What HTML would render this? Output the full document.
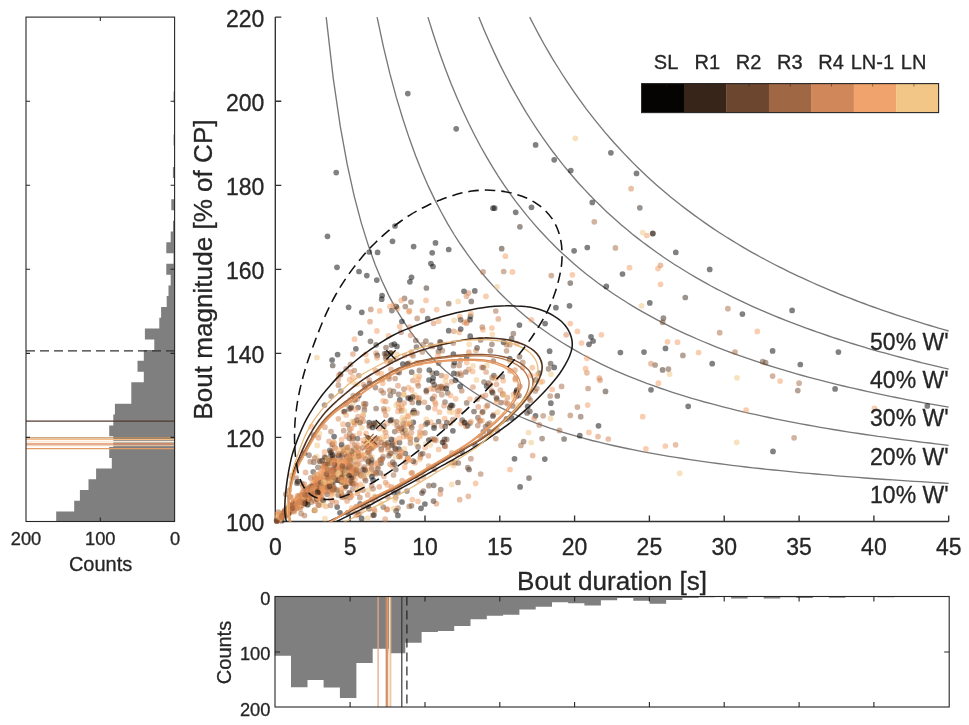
<!DOCTYPE html>
<html><head><meta charset="utf-8"><title>Bout magnitude vs duration</title>
<style>html,body{margin:0;padding:0;background:#fff;}svg{display:block;will-change:transform;}text{font-family:"Liberation Sans",sans-serif;fill:#262626;stroke:#262626;stroke-width:0.3px;}.p0{fill:#060403}.p1{fill:#38251a}.p2{fill:#6c462e}.p3{fill:#a56740}.p4{fill:#d68452}.p5{fill:#f49e62}.p6{fill:#f2c480}</style></head><body>
<svg width="969" height="725" viewBox="0 0 969 725">
<rect width="969" height="725" fill="#fff"/>
<defs><clipPath id="cm"><rect x="275.3" y="17.1" width="673.9" height="504.4"/></clipPath><clipPath id="cp"><rect x="269.3" y="13.1" width="685.4" height="512.4"/></clipPath></defs>
<path d="M56.2 511.5H174.6V521.7H56.2ZM74.2 500.8H174.6V511.7H74.2ZM79.9 490H174.6V501H79.9ZM88.5 479.2H174.6V490.2H88.5ZM96.1 468.4H174.6V479.4H96.1ZM111.8 457.7H174.6V468.6H111.8ZM109.2 446.9H174.6V457.9H109.2ZM113.3 436.1H174.6V447.1H113.3ZM109.2 425.4H174.6V436.3H109.2ZM113.3 414.6H174.6V425.6H113.3ZM114.9 403.8H174.6V414.8H114.9ZM131.3 393.1H174.6V404H131.3ZM131.3 382.3H174.6V393.3H131.3ZM143.8 371.5H174.6V382.5H143.8ZM137.5 360.8H174.6V371.7H137.5ZM143.8 350H174.6V360.9H143.8ZM154.3 339.2H174.6V350.2H154.3ZM144.9 328.4H174.6V339.4H144.9ZM159.3 317.7H174.6V328.6H159.3ZM161.1 306.9H174.6V317.9H161.1ZM166.7 296.1H174.6V307.1H166.7ZM168.5 285.4H174.6V296.3H168.5ZM170.7 274.6H174.6V285.6H170.7ZM166.3 263.8H174.6V274.8H166.3ZM173.5 253H174.6V264H173.5ZM166.3 242.3H174.6V253.2H166.3ZM170.7 231.5H174.6V242.5H170.7ZM173 220.7H174.6V231.7H173ZM171.3 199.2H174.6V210.2H171.3ZM172.9 166.9H174.6V177.9H172.9ZM173.6 134.6H174.6V145.5H173.6ZM173.6 91.5H174.6V102.5H173.6Z" fill="#7f7f7f"/>
<line x1="26" x2="174.6" y1="421.1" y2="421.1" stroke="#4f3a2c" stroke-width="1.2"/>
<line x1="26" x2="174.6" y1="437.9" y2="437.9" stroke="#c48e56" stroke-width="1.1"/>
<line x1="26" x2="174.6" y1="439.5" y2="439.5" stroke="#f3bd8c" stroke-width="1.2"/>
<line x1="26" x2="174.6" y1="441.6" y2="441.6" stroke="#fbead6" stroke-width="1.6"/>
<line x1="26" x2="174.6" y1="444" y2="444" stroke="#db926c" stroke-width="1.7"/>
<line x1="26" x2="174.6" y1="445.7" y2="445.7" stroke="#f5ccac" stroke-width="1.0"/>
<line x1="26" x2="174.6" y1="448.7" y2="448.7" stroke="#e39c68" stroke-width="1.2"/>
<line x1="26" x2="174.6" y1="350.9" y2="350.9" stroke="#333" stroke-width="1.2" stroke-dasharray="9 5"/>
<rect x="26" y="17.1" width="148.6" height="504.4" fill="none" stroke="#262626" stroke-width="1.1"/>
<path d="M26 437.4h4M174.6 437.4h-4M26 353.4h4M174.6 353.4h-4M26 269.3h4M174.6 269.3h-4M26 185.3h4M174.6 185.3h-4M26 101.2h4M174.6 101.2h-4M100.3 17.1v4M100.3 521.5v-4" stroke="#262626" stroke-width="1.1" fill="none"/>
<text x="26" y="545" font-size="18.3" text-anchor="middle">200</text>
<text x="100.3" y="545" font-size="18.3" text-anchor="middle">100</text>
<text x="175" y="545" font-size="18.3" text-anchor="middle">0</text>
<text x="100.6" y="570.7" font-size="20" text-anchor="middle">Counts</text>
<path d="M274.7 596.5H291.2V655.7H274.7ZM291 596.5H307.5V687.2H291ZM307.3 596.5H323.8V679.9H307.3ZM323.6 596.5H340.1V687.5H323.6ZM339.9 596.5H356.4V698.1H339.9ZM356.2 596.5H372.7V663.1H356.2ZM372.5 596.5H389V648.8H372.5ZM388.8 596.5H405.3V653.3H388.8ZM405.1 596.5H421.6V642.7H405.1ZM421.4 596.5H437.9V631.9H421.4ZM437.7 596.5H454.2V630.9H437.7ZM454 596.5H470.5V626H454ZM470.3 596.5H486.8V619.2H470.3ZM486.6 596.5H503.1V615.7H486.6ZM502.9 596.5H519.4V614.7H502.9ZM519.2 596.5H535.7V609.5H519.2ZM535.5 596.5H552V606.8H535.5ZM551.8 596.5H568.3V602.3H551.8ZM568.1 596.5H584.6V603.3H568.1ZM584.4 596.5H600.9V605.4H584.4ZM600.7 596.5H617.2V600.2H600.7ZM617 596.5H633.5V598.1H617ZM633.3 596.5H649.8V600.8H633.3ZM649.6 596.5H666.1V603.7H649.6ZM665.9 596.5H682.4V600H665.9ZM682.2 596.5H698.7V597.9H682.2ZM698.5 596.5H715V597.3H698.5ZM731.1 596.5H747.6V598.5H731.1ZM747.4 596.5H763.9V597.1H747.4ZM763.7 596.5H780.2V598.5H763.7ZM780 596.5H796.5V597.3H780ZM796.3 596.5H812.8V598H796.3ZM828.9 596.5H845.4V597.7H828.9ZM845.2 596.5H861.7V597.1H845.2ZM877.8 596.5H894.3V597.3H877.8ZM910.4 596.5H926.9V597.1H910.4Z" fill="#7f7f7f"/>
<line x1="378.1" x2="378.1" y1="596.5" y2="707" stroke="#e8a880" stroke-width="1.3"/>
<line x1="386.3" x2="386.3" y1="596.5" y2="707" stroke="#c98c62" stroke-width="1.3"/>
<line x1="387.6" x2="387.6" y1="596.5" y2="707" stroke="#d99a70" stroke-width="1.3"/>
<line x1="389.7" x2="389.7" y1="596.5" y2="707" stroke="#f9e4c6" stroke-width="1.6"/>
<line x1="390.8" x2="390.8" y1="596.5" y2="707" stroke="#eeb487" stroke-width="1.0"/>
<line x1="401.8" x2="401.8" y1="596.5" y2="707" stroke="#3c3532" stroke-width="1.2"/>
<line x1="406.9" x2="406.9" y1="596.5" y2="707" stroke="#222" stroke-width="1.2" stroke-dasharray="9 5"/>
<rect x="275" y="596.5" width="674.2" height="110.5" fill="none" stroke="#262626" stroke-width="1.1"/>
<path d="M350.1 596.5v5M350.1 707v-5M425 596.5v5M425 707v-5M499.8 596.5v5M499.8 707v-5M574.6 596.5v5M574.6 707v-5M649.4 596.5v5M649.4 707v-5M724.2 596.5v5M724.2 707v-5M799.1 596.5v5M799.1 707v-5M873.9 596.5v5M873.9 707v-5M275 652h5M949.2 652h-5" stroke="#262626" stroke-width="1.1" fill="none"/>
<text x="270.4" y="604.6" font-size="18.3" text-anchor="end">0</text>
<text x="270.4" y="660.3" font-size="18.3" text-anchor="end">100</text>
<text x="270.4" y="715.6" font-size="18.3" text-anchor="end">200</text>
<text transform="translate(231 652.5) rotate(-90)" font-size="20" text-anchor="middle">Counts</text>
<path d="M326.2 17.1L333.2 78.1L340.2 125.9L347.2 164.4L354.2 196.1L361.2 222.6L368.2 245.1L375.1 264.5L382.1 281.3L389.1 296.1L396.1 309.1L403.1 320.7L410.1 331.2L417.1 340.5L424.1 349L431.1 356.8L438.1 363.9L445.1 370.4L452.1 376.3L459.1 381.9L466.1 387L473.1 391.7L480.1 396.2L487.1 400.3L494.1 404.2L501.1 407.8L508 411.2L515 414.5L522 417.5L529 420.4L536 423.1L543 425.6L550 428.1L557 430.4L564 432.6L571 434.7L578 436.7L585 438.6L592 440.5L599 442.2L606 443.9L613 445.5L620 447L627 448.5L634 449.9L641 451.3L647.9 452.6L654.9 453.9L661.9 455.1L668.9 456.3L675.9 457.4L682.9 458.5L689.9 459.6L696.9 460.6L703.9 461.6L710.9 462.6L717.9 463.5L724.9 464.4L731.9 465.3L738.9 466.1L745.9 467L752.9 467.8L759.9 468.5L766.9 469.3L773.9 470L780.8 470.7L787.8 471.4L794.8 472.1L801.8 472.8L808.8 473.4L815.8 474L822.8 474.6L829.8 475.2L836.8 475.8L843.8 476.4L850.8 476.9L857.8 477.4L864.8 478L871.8 478.5L878.8 479L885.8 479.5L892.8 479.9L899.8 480.4L906.8 480.9L913.8 481.3L920.7 481.7L927.7 482.2L934.7 482.6L941.7 483L948.7 483.4" fill="none" stroke="#787878" stroke-width="1.35"/>
<path d="M377.1 17.1L383.5 47.1L389.9 73.7L396.3 97.4L402.8 118.8L409.2 138.1L415.6 155.7L422 171.7L428.4 186.4L434.9 199.9L441.3 212.3L447.7 223.8L454.1 234.5L460.6 244.5L467 253.7L473.4 262.4L479.8 270.6L486.3 278.2L492.7 285.4L499.1 292.2L505.5 298.6L511.9 304.6L518.4 310.3L524.8 315.8L531.2 320.9L537.6 325.9L544.1 330.5L550.5 335L556.9 339.2L563.3 343.3L569.8 347.2L576.2 350.9L582.6 354.5L589 357.9L595.5 361.2L601.9 364.3L608.3 367.4L614.7 370.3L621.1 373.1L627.6 375.8L634 378.4L640.4 380.9L646.8 383.4L653.3 385.7L659.7 388L666.1 390.2L672.5 392.3L679 394.3L685.4 396.3L691.8 398.3L698.2 400.1L704.6 402L711.1 403.7L717.5 405.4L723.9 407.1L730.3 408.7L736.8 410.3L743.2 411.8L749.6 413.3L756 414.7L762.5 416.1L768.9 417.5L775.3 418.9L781.7 420.2L788.1 421.4L794.6 422.7L801 423.9L807.4 425L813.8 426.2L820.3 427.3L826.7 428.4L833.1 429.5L839.5 430.5L846 431.6L852.4 432.6L858.8 433.5L865.2 434.5L871.6 435.4L878.1 436.4L884.5 437.2L890.9 438.1L897.3 439L903.8 439.8L910.2 440.7L916.6 441.5L923 442.3L929.5 443L935.9 443.8L942.3 444.6L948.7 445.3" fill="none" stroke="#787878" stroke-width="1.35"/>
<path d="M427.9 17.1L433.8 35.8L439.6 53.1L445.5 69.2L451.3 84.2L457.2 98.3L463.1 111.5L468.9 123.8L474.8 135.5L480.6 146.5L486.5 156.9L492.3 166.7L498.2 176.1L504 184.9L509.9 193.3L515.7 201.3L521.6 208.9L527.4 216.1L533.3 223.1L539.1 229.7L545 236L550.8 242.1L556.7 247.9L562.5 253.5L568.4 258.8L574.2 264L580.1 268.9L585.9 273.7L591.8 278.2L597.6 282.7L603.5 286.9L609.3 291L615.2 295L621 298.8L626.9 302.5L632.7 306.1L638.6 309.6L644.4 312.9L650.3 316.2L656.2 319.4L662 322.4L667.9 325.4L673.7 328.3L679.6 331.1L685.4 333.8L691.3 336.4L697.1 339L703 341.5L708.8 343.9L714.7 346.3L720.5 348.6L726.4 350.8L732.2 353L738.1 355.1L743.9 357.2L749.8 359.2L755.6 361.2L761.5 363.1L767.3 365L773.2 366.9L779 368.7L784.9 370.4L790.7 372.1L796.6 373.8L802.4 375.5L808.3 377.1L814.1 378.6L820 380.2L825.8 381.7L831.7 383.1L837.5 384.6L843.4 386L849.2 387.4L855.1 388.7L861 390L866.8 391.3L872.7 392.6L878.5 393.9L884.4 395.1L890.2 396.3L896.1 397.5L901.9 398.6L907.8 399.8L913.6 400.9L919.5 402L925.3 403.1L931.2 404.1L937 405.2L942.9 406.2L948.7 407.2" fill="none" stroke="#787878" stroke-width="1.35"/>
<path d="M478.8 17.1L484.1 29.9L489.4 42L494.7 53.6L499.9 64.6L505.2 75L510.5 85.1L515.8 94.7L521.1 103.8L526.3 112.6L531.6 121L536.9 129.1L542.2 136.9L547.5 144.3L552.7 151.5L558 158.4L563.3 165.1L568.6 171.5L573.9 177.7L579.1 183.7L584.4 189.4L589.7 195L595 200.4L600.3 205.6L605.5 210.7L610.8 215.6L616.1 220.3L621.4 224.9L626.7 229.3L631.9 233.7L637.2 237.9L642.5 242L647.8 245.9L653.1 249.8L658.3 253.5L663.6 257.2L668.9 260.7L674.2 264.2L679.5 267.5L684.7 270.8L690 274L695.3 277.1L700.6 280.1L705.9 283.1L711.1 286L716.4 288.8L721.7 291.5L727 294.2L732.3 296.9L737.5 299.4L742.8 301.9L748.1 304.4L753.4 306.8L758.7 309.1L763.9 311.4L769.2 313.7L774.5 315.9L779.8 318L785.1 320.1L790.3 322.2L795.6 324.2L800.9 326.2L806.2 328.1L811.5 330L816.7 331.9L822 333.7L827.3 335.5L832.6 337.3L837.8 339L843.1 340.7L848.4 342.4L853.7 344L859 345.6L864.2 347.2L869.5 348.8L874.8 350.3L880.1 351.8L885.4 353.2L890.6 354.7L895.9 356.1L901.2 357.5L906.5 358.9L911.8 360.2L917 361.5L922.3 362.9L927.6 364.1L932.9 365.4L938.2 366.6L943.4 367.9L948.7 369.1" fill="none" stroke="#787878" stroke-width="1.35"/>
<path d="M529.7 17.1L534.4 26.3L539.1 35.1L543.8 43.7L548.5 51.9L553.2 59.9L558 67.5L562.7 75L567.4 82.2L572.1 89.2L576.8 95.9L581.5 102.4L586.2 108.8L590.9 114.9L595.6 120.9L600.3 126.7L605 132.4L609.7 137.8L614.5 143.2L619.2 148.3L623.9 153.4L628.6 158.3L633.3 163.1L638 167.7L642.7 172.3L647.4 176.7L652.1 181L656.8 185.2L661.5 189.3L666.2 193.3L670.9 197.2L675.7 201L680.4 204.7L685.1 208.4L689.8 211.9L694.5 215.4L699.2 218.8L703.9 222.1L708.6 225.4L713.3 228.6L718 231.7L722.7 234.7L727.4 237.7L732.2 240.6L736.9 243.5L741.6 246.3L746.3 249.1L751 251.8L755.7 254.4L760.4 257L765.1 259.5L769.8 262L774.5 264.5L779.2 266.9L783.9 269.2L788.6 271.6L793.4 273.8L798.1 276.1L802.8 278.2L807.5 280.4L812.2 282.5L816.9 284.6L821.6 286.6L826.3 288.6L831 290.6L835.7 292.5L840.4 294.5L845.1 296.3L849.9 298.2L854.6 300L859.3 301.8L864 303.5L868.7 305.3L873.4 307L878.1 308.6L882.8 310.3L887.5 311.9L892.2 313.5L896.9 315.1L901.6 316.6L906.4 318.2L911.1 319.7L915.8 321.2L920.5 322.6L925.2 324.1L929.9 325.5L934.6 326.9L939.3 328.3L944 329.6L948.7 331" fill="none" stroke="#787878" stroke-width="1.35"/>
<path d="M275.3 17.1V521.5H948.7M275.3 521.5h6M275.3 437.4h6M275.3 353.4h6M275.3 269.3h6M275.3 185.3h6M275.3 101.2h6M275.3 17.1h6M275.3 521.5v-6M350.1 521.5v-6M425 521.5v-6M499.8 521.5v-6M574.6 521.5v-6M649.4 521.5v-6M724.2 521.5v-6M799.1 521.5v-6M873.9 521.5v-6M948.7 521.5v-6" stroke="#303030" stroke-width="1.35" fill="none"/>
<g clip-path="url(#cp)" fill-opacity="0.5">
<circle class="p3" cx="301.5" cy="501.9" r="2.85"/><circle class="p5" cx="295.7" cy="499.4" r="2.85"/><circle class="p0" cx="399.1" cy="456.3" r="2.85"/><circle class="p5" cx="343.9" cy="497.6" r="2.85"/><circle class="p3" cx="325.9" cy="466.9" r="2.85"/><circle class="p4" cx="326.3" cy="487.4" r="2.85"/><circle class="p4" cx="478.3" cy="406.9" r="2.85"/><circle class="p6" cx="349.2" cy="468.6" r="2.85"/><circle class="p5" cx="400.4" cy="456.9" r="2.85"/><circle class="p5" cx="436.7" cy="309.6" r="2.85"/><circle class="p0" cx="535.6" cy="144.9" r="2.85"/><circle class="p3" cx="406.2" cy="433.9" r="2.85"/><circle class="p3" cx="345.2" cy="485.5" r="2.85"/><circle class="p0" cx="838.4" cy="352.1" r="2.85"/><circle class="p2" cx="548.6" cy="368.8" r="2.85"/><circle class="p4" cx="330.1" cy="463.5" r="2.85"/><circle class="p6" cx="449.6" cy="411.7" r="2.85"/><circle class="p5" cx="410.4" cy="437" r="2.85"/><circle class="p3" cx="395.7" cy="497.6" r="2.85"/><circle class="p3" cx="350.5" cy="364.4" r="2.85"/><circle class="p5" cx="642.7" cy="416.7" r="2.85"/><circle class="p5" cx="277.5" cy="518.6" r="2.85"/><circle class="p0" cx="348.2" cy="468.4" r="2.85"/><circle class="p5" cx="296.6" cy="500.4" r="2.85"/><circle class="p2" cx="300.1" cy="497.1" r="2.85"/><circle class="p0" cx="453.4" cy="354.2" r="2.85"/><circle class="p4" cx="378.1" cy="444.3" r="2.85"/><circle class="p1" cx="652.7" cy="233.4" r="2.85"/><circle class="p3" cx="354.8" cy="445" r="2.85"/><circle class="p6" cx="430.4" cy="444.8" r="2.85"/><circle class="p3" cx="509.8" cy="344.7" r="2.85"/><circle class="p3" cx="380.2" cy="460.1" r="2.85"/><circle class="p4" cx="349.3" cy="454.7" r="2.85"/><circle class="p6" cx="307.8" cy="492" r="2.85"/><circle class="p5" cx="370.5" cy="463.1" r="2.85"/><circle class="p3" cx="325.5" cy="486.6" r="2.85"/><circle class="p4" cx="341.4" cy="494.4" r="2.85"/><circle class="p4" cx="566.2" cy="334.8" r="2.85"/><circle class="p1" cx="390.8" cy="453.3" r="2.85"/><circle class="p5" cx="407.5" cy="416.3" r="2.85"/><circle class="p3" cx="502.7" cy="394.5" r="2.85"/><circle class="p6" cx="368.1" cy="451.1" r="2.85"/><circle class="p5" cx="311.1" cy="493.2" r="2.85"/><circle class="p4" cx="409" cy="363.2" r="2.85"/><circle class="p0" cx="413.3" cy="422.3" r="2.85"/><circle class="p4" cx="298.3" cy="507.6" r="2.85"/><circle class="p2" cx="425.8" cy="424.3" r="2.85"/><circle class="p2" cx="370.5" cy="448.1" r="2.85"/><circle class="p0" cx="549.6" cy="351.2" r="2.85"/><circle class="p3" cx="358" cy="471" r="2.85"/><circle class="p5" cx="298.3" cy="500" r="2.85"/><circle class="p0" cx="361.6" cy="518.4" r="2.85"/><circle class="p2" cx="519.5" cy="356.7" r="2.85"/><circle class="p6" cx="453.5" cy="465.6" r="2.85"/><circle class="p4" cx="468.8" cy="352.2" r="2.85"/><circle class="p2" cx="314.1" cy="487.4" r="2.85"/><circle class="p0" cx="399" cy="449.1" r="2.85"/><circle class="p4" cx="468.6" cy="293" r="2.85"/><circle class="p3" cx="441.9" cy="387.9" r="2.85"/><circle class="p4" cx="293.7" cy="505.2" r="2.85"/><circle class="p3" cx="441.7" cy="386.3" r="2.85"/><circle class="p2" cx="765.6" cy="362.5" r="2.85"/><circle class="p2" cx="352.8" cy="438.5" r="2.85"/><circle class="p1" cx="341.3" cy="454.7" r="2.85"/><circle class="p3" cx="352.7" cy="489.1" r="2.85"/><circle class="p5" cx="352.5" cy="470.8" r="2.85"/><circle class="p3" cx="426.3" cy="391.7" r="2.85"/><circle class="p2" cx="322.8" cy="490.8" r="2.85"/><circle class="p5" cx="366" cy="433.4" r="2.85"/><circle class="p1" cx="323.3" cy="500.3" r="2.85"/><circle class="p5" cx="319.7" cy="479.1" r="2.85"/><circle class="p0" cx="277" cy="521.1" r="2.85"/><circle class="p3" cx="290.5" cy="508.3" r="2.85"/><circle class="p3" cx="528.9" cy="398.1" r="2.85"/><circle class="p3" cx="615.4" cy="247.9" r="2.85"/><circle class="p4" cx="356.7" cy="485.6" r="2.85"/><circle class="p5" cx="411.4" cy="354.4" r="2.85"/><circle class="p3" cx="297.3" cy="503.2" r="2.85"/><circle class="p3" cx="409.2" cy="506.4" r="2.85"/><circle class="p0" cx="401.9" cy="321.5" r="2.85"/><circle class="p5" cx="329.1" cy="480.7" r="2.85"/><circle class="p5" cx="658" cy="268.6" r="2.85"/><circle class="p5" cx="332" cy="478.7" r="2.85"/><circle class="p6" cx="473" cy="365.8" r="2.85"/><circle class="p3" cx="289.1" cy="512.7" r="2.85"/><circle class="p5" cx="314.3" cy="476.6" r="2.85"/><circle class="p4" cx="333.2" cy="488.7" r="2.85"/><circle class="p0" cx="460.2" cy="386.4" r="2.85"/><circle class="p2" cx="484" cy="382" r="2.85"/><circle class="p1" cx="308.2" cy="491.3" r="2.85"/><circle class="p4" cx="332.4" cy="500.8" r="2.85"/><circle class="p6" cx="422" cy="433.4" r="2.85"/><circle class="p3" cx="286.2" cy="515.6" r="2.85"/><circle class="p2" cx="305.2" cy="494.3" r="2.85"/><circle class="p2" cx="453.6" cy="365.7" r="2.85"/><circle class="p6" cx="486.9" cy="365.7" r="2.85"/><circle class="p3" cx="350.6" cy="475.8" r="2.85"/><circle class="p5" cx="296.9" cy="500.3" r="2.85"/><circle class="p3" cx="507.4" cy="403.6" r="2.85"/><circle class="p4" cx="356.2" cy="473.9" r="2.85"/><circle class="p5" cx="382.8" cy="383.3" r="2.85"/><circle class="p5" cx="298.1" cy="497.7" r="2.85"/><circle class="p4" cx="293.5" cy="503.9" r="2.85"/><circle class="p4" cx="352.2" cy="441.6" r="2.85"/><circle class="p5" cx="281.7" cy="515.5" r="2.85"/><circle class="p3" cx="295.5" cy="507.4" r="2.85"/><circle class="p4" cx="660.5" cy="265.3" r="2.85"/><circle class="p3" cx="522.8" cy="362.4" r="2.85"/><circle class="p4" cx="317.5" cy="495.4" r="2.85"/><circle class="p6" cx="550.5" cy="418.6" r="2.85"/><circle class="p4" cx="286.8" cy="511.7" r="2.85"/><circle class="p3" cx="283.1" cy="515.6" r="2.85"/><circle class="p6" cx="407.9" cy="423.3" r="2.85"/><circle class="p2" cx="458" cy="482.5" r="2.85"/><circle class="p3" cx="477.8" cy="425.6" r="2.85"/><circle class="p4" cx="280" cy="519.3" r="2.85"/><circle class="p4" cx="385.2" cy="519.2" r="2.85"/><circle class="p4" cx="339.1" cy="461.6" r="2.85"/><circle class="p1" cx="557.3" cy="395.9" r="2.85"/><circle class="p4" cx="409.4" cy="310.8" r="2.85"/><circle class="p2" cx="375.4" cy="387.6" r="2.85"/><circle class="p2" cx="430.9" cy="345.2" r="2.85"/><circle class="p5" cx="403.6" cy="436.7" r="2.85"/><circle class="p6" cx="641.5" cy="305.8" r="2.85"/><circle class="p4" cx="287.2" cy="513.6" r="2.85"/><circle class="p3" cx="293.1" cy="506" r="2.85"/><circle class="p2" cx="372.8" cy="442.6" r="2.85"/><circle class="p5" cx="285.4" cy="514.9" r="2.85"/><circle class="p2" cx="308.2" cy="494" r="2.85"/><circle class="p2" cx="353" cy="477" r="2.85"/><circle class="p6" cx="325.2" cy="491.3" r="2.85"/><circle class="p0" cx="414" cy="412.7" r="2.85"/><circle class="p4" cx="331.2" cy="463" r="2.85"/><circle class="p5" cx="373.2" cy="447.2" r="2.85"/><circle class="p4" cx="400.2" cy="455.7" r="2.85"/><circle class="p4" cx="349.5" cy="483.3" r="2.85"/><circle class="p5" cx="307.1" cy="495.8" r="2.85"/><circle class="p5" cx="330.8" cy="498.9" r="2.85"/><circle class="p5" cx="306.9" cy="490.2" r="2.85"/><circle class="p0" cx="448.7" cy="330.7" r="2.85"/><circle class="p5" cx="455.7" cy="398.8" r="2.85"/><circle class="p4" cx="309.3" cy="489.1" r="2.85"/><circle class="p5" cx="283.8" cy="514.7" r="2.85"/><circle class="p3" cx="389.9" cy="390.3" r="2.85"/><circle class="p5" cx="303.3" cy="503" r="2.85"/><circle class="p4" cx="361.2" cy="476.1" r="2.85"/><circle class="p4" cx="491.6" cy="390.5" r="2.85"/><circle class="p5" cx="331.7" cy="493.6" r="2.85"/><circle class="p4" cx="357.4" cy="399" r="2.85"/><circle class="p1" cx="297" cy="483.2" r="2.85"/><circle class="p4" cx="285.9" cy="512.5" r="2.85"/><circle class="p5" cx="276.9" cy="520.8" r="2.85"/><circle class="p5" cx="298.8" cy="501.8" r="2.85"/><circle class="p2" cx="411.5" cy="505.8" r="2.85"/><circle class="p5" cx="278.4" cy="518.1" r="2.85"/><circle class="p3" cx="305.3" cy="498.3" r="2.85"/><circle class="p5" cx="333.6" cy="486.1" r="2.85"/><circle class="p1" cx="318.7" cy="492" r="2.85"/><circle class="p5" cx="297.7" cy="506.3" r="2.85"/><circle class="p0" cx="470.2" cy="336.2" r="2.85"/><circle class="p0" cx="675.8" cy="252.4" r="2.85"/><circle class="p4" cx="493.6" cy="414.5" r="2.85"/><circle class="p3" cx="331" cy="472.1" r="2.85"/><circle class="p0" cx="520.1" cy="486.9" r="2.85"/><circle class="p2" cx="345.6" cy="496.3" r="2.85"/><circle class="p4" cx="385.7" cy="401.5" r="2.85"/><circle class="p5" cx="417.5" cy="383.2" r="2.85"/><circle class="p5" cx="780.1" cy="381.1" r="2.85"/><circle class="p3" cx="332.2" cy="444.6" r="2.85"/><circle class="p0" cx="428.8" cy="440.1" r="2.85"/><circle class="p6" cx="517.8" cy="405.2" r="2.85"/><circle class="p6" cx="394.1" cy="423" r="2.85"/><circle class="p3" cx="300.1" cy="506.9" r="2.85"/><circle class="p2" cx="333.6" cy="477.4" r="2.85"/><circle class="p4" cx="441.9" cy="426.2" r="2.85"/><circle class="p5" cx="290.4" cy="506.6" r="2.85"/><circle class="p1" cx="605.5" cy="391.4" r="2.85"/><circle class="p2" cx="513.3" cy="333.7" r="2.85"/><circle class="p4" cx="317.5" cy="487" r="2.85"/><circle class="p0" cx="350.5" cy="457.8" r="2.85"/><circle class="p4" cx="415" cy="462.7" r="2.85"/><circle class="p0" cx="527.7" cy="406.4" r="2.85"/><circle class="p5" cx="439.5" cy="412.2" r="2.85"/><circle class="p4" cx="348.5" cy="457.6" r="2.85"/><circle class="p0" cx="433" cy="266.5" r="2.85"/><circle class="p4" cx="353.2" cy="435.8" r="2.85"/><circle class="p5" cx="395.5" cy="443.1" r="2.85"/><circle class="p3" cx="281.8" cy="517" r="2.85"/><circle class="p4" cx="315" cy="479.5" r="2.85"/><circle class="p3" cx="295.4" cy="505.3" r="2.85"/><circle class="p1" cx="413.8" cy="410.6" r="2.85"/><circle class="p6" cx="451.8" cy="484.4" r="2.85"/><circle class="p5" cx="366.5" cy="472" r="2.85"/><circle class="p3" cx="307" cy="496.7" r="2.85"/><circle class="p3" cx="418.3" cy="385.8" r="2.85"/><circle class="p6" cx="383.3" cy="439.4" r="2.85"/><circle class="p1" cx="685.3" cy="297.5" r="2.85"/><circle class="p1" cx="432.5" cy="398.8" r="2.85"/><circle class="p5" cx="397.5" cy="308.4" r="2.85"/><circle class="p3" cx="306.6" cy="497.3" r="2.85"/><circle class="p3" cx="353.8" cy="464.5" r="2.85"/><circle class="p3" cx="293.6" cy="501.9" r="2.85"/><circle class="p4" cx="338.1" cy="379.6" r="2.85"/><circle class="p4" cx="406.9" cy="436" r="2.85"/><circle class="p1" cx="412.6" cy="412.6" r="2.85"/><circle class="p5" cx="677.5" cy="342.2" r="2.85"/><circle class="p4" cx="336" cy="467.8" r="2.85"/><circle class="p0" cx="509.7" cy="358.6" r="2.85"/><circle class="p2" cx="364.4" cy="409.9" r="2.85"/><circle class="p5" cx="324" cy="484.7" r="2.85"/><circle class="p3" cx="470.9" cy="458.7" r="2.85"/><circle class="p4" cx="336.7" cy="465.9" r="2.85"/><circle class="p5" cx="309.8" cy="497.7" r="2.85"/><circle class="p6" cx="361.6" cy="453.7" r="2.85"/><circle class="p3" cx="520.9" cy="445.4" r="2.85"/><circle class="p2" cx="375.8" cy="472.4" r="2.85"/><circle class="p6" cx="319.4" cy="433.6" r="2.85"/><circle class="p3" cx="329.5" cy="469.1" r="2.85"/><circle class="p2" cx="491.9" cy="344.3" r="2.85"/><circle class="p5" cx="698.6" cy="352.5" r="2.85"/><circle class="p5" cx="355.3" cy="479.1" r="2.85"/><circle class="p6" cx="357.2" cy="384.2" r="2.85"/><circle class="p3" cx="302.2" cy="500.3" r="2.85"/><circle class="p6" cx="454.2" cy="320.3" r="2.85"/><circle class="p4" cx="315.1" cy="495.1" r="2.85"/><circle class="p4" cx="515" cy="370.1" r="2.85"/><circle class="p4" cx="354.2" cy="456.3" r="2.85"/><circle class="p2" cx="350.9" cy="481.7" r="2.85"/><circle class="p3" cx="334.4" cy="469.6" r="2.85"/><circle class="p5" cx="286.2" cy="514.7" r="2.85"/><circle class="p3" cx="296.3" cy="478.1" r="2.85"/><circle class="p4" cx="404.4" cy="419.8" r="2.85"/><circle class="p5" cx="311.8" cy="486.7" r="2.85"/><circle class="p1" cx="397.8" cy="372.1" r="2.85"/><circle class="p1" cx="368" cy="452.3" r="2.85"/><circle class="p1" cx="452.5" cy="405.5" r="2.85"/><circle class="p5" cx="320.1" cy="478.6" r="2.85"/><circle class="p2" cx="394.7" cy="431.6" r="2.85"/><circle class="p5" cx="457.4" cy="415.3" r="2.85"/><circle class="p3" cx="314.8" cy="500.9" r="2.85"/><circle class="p4" cx="500.4" cy="390" r="2.85"/><circle class="p5" cx="343.6" cy="484.9" r="2.85"/><circle class="p4" cx="476" cy="350.5" r="2.85"/><circle class="p5" cx="280.8" cy="516.5" r="2.85"/><circle class="p5" cx="329.2" cy="476.5" r="2.85"/><circle class="p5" cx="299.4" cy="498" r="2.85"/><circle class="p6" cx="303.5" cy="486.1" r="2.85"/><circle class="p2" cx="382.4" cy="458.8" r="2.85"/><circle class="p0" cx="332.1" cy="360" r="2.85"/><circle class="p4" cx="386.8" cy="509.4" r="2.85"/><circle class="p3" cx="719.7" cy="332.7" r="2.85"/><circle class="p0" cx="396.2" cy="306.6" r="2.85"/><circle class="p4" cx="324.4" cy="456.7" r="2.85"/><circle class="p4" cx="354.8" cy="453.4" r="2.85"/><circle class="p4" cx="306.5" cy="489.4" r="2.85"/><circle class="p0" cx="337.2" cy="507.1" r="2.85"/><circle class="p5" cx="393.4" cy="305.1" r="2.85"/><circle class="p5" cx="297.5" cy="501.9" r="2.85"/><circle class="p5" cx="290.1" cy="508.3" r="2.85"/><circle class="p6" cx="452.7" cy="412.1" r="2.85"/><circle class="p0" cx="589" cy="344.3" r="2.85"/><circle class="p3" cx="402.9" cy="432.5" r="2.85"/><circle class="p5" cx="459.8" cy="316.6" r="2.85"/><circle class="p2" cx="440.7" cy="489.5" r="2.85"/><circle class="p0" cx="309.6" cy="498.1" r="2.85"/><circle class="p5" cx="324.5" cy="451.8" r="2.85"/><circle class="p5" cx="376.9" cy="330.9" r="2.85"/><circle class="p6" cx="368.4" cy="473.9" r="2.85"/><circle class="p2" cx="386" cy="347.5" r="2.85"/><circle class="p3" cx="387.7" cy="496.8" r="2.85"/><circle class="p5" cx="279.7" cy="519.5" r="2.85"/><circle class="p0" cx="351.3" cy="407.3" r="2.85"/><circle class="p4" cx="385.8" cy="415.2" r="2.85"/><circle class="p2" cx="327.1" cy="494.3" r="2.85"/><circle class="p3" cx="480.7" cy="474" r="2.85"/><circle class="p4" cx="354.4" cy="424.4" r="2.85"/><circle class="p5" cx="316.9" cy="500.8" r="2.85"/><circle class="p4" cx="598" cy="436.6" r="2.85"/><circle class="p0" cx="399.8" cy="399.9" r="2.85"/><circle class="p0" cx="358.2" cy="514.1" r="2.85"/><circle class="p4" cx="314.9" cy="485.4" r="2.85"/><circle class="p4" cx="330.7" cy="484.2" r="2.85"/><circle class="p5" cx="646.9" cy="235.5" r="2.85"/><circle class="p5" cx="343.4" cy="412" r="2.85"/><circle class="p5" cx="341.2" cy="465.8" r="2.85"/><circle class="p6" cx="361.4" cy="455.2" r="2.85"/><circle class="p5" cx="434.5" cy="440.3" r="2.85"/><circle class="p0" cx="430.9" cy="263.6" r="2.85"/><circle class="p5" cx="341.9" cy="447.6" r="2.85"/><circle class="p6" cx="416.4" cy="443.9" r="2.85"/><circle class="p4" cx="327.1" cy="469.8" r="2.85"/><circle class="p5" cx="278.8" cy="517.5" r="2.85"/><circle class="p3" cx="459.3" cy="365.4" r="2.85"/><circle class="p5" cx="411.6" cy="389.9" r="2.85"/><circle class="p5" cx="365.8" cy="354.4" r="2.85"/><circle class="p5" cx="438.7" cy="449.4" r="2.85"/><circle class="p5" cx="301.5" cy="498.7" r="2.85"/><circle class="p2" cx="432.3" cy="373.1" r="2.85"/><circle class="p3" cx="350.1" cy="497.6" r="2.85"/><circle class="p4" cx="361" cy="459.2" r="2.85"/><circle class="p0" cx="606.3" cy="286.4" r="2.85"/><circle class="p3" cx="417.2" cy="318.4" r="2.85"/><circle class="p4" cx="309.1" cy="488.2" r="2.85"/><circle class="p4" cx="423.2" cy="476.8" r="2.85"/><circle class="p2" cx="466.7" cy="402.9" r="2.85"/><circle class="p4" cx="321.7" cy="496.6" r="2.85"/><circle class="p4" cx="428.4" cy="455.8" r="2.85"/><circle class="p5" cx="316" cy="487.7" r="2.85"/><circle class="p5" cx="391.1" cy="352.8" r="2.85"/><circle class="p0" cx="346.7" cy="456.4" r="2.85"/><circle class="p4" cx="290.6" cy="506.5" r="2.85"/><circle class="p1" cx="381.3" cy="449.1" r="2.85"/><circle class="p4" cx="318.1" cy="504.9" r="2.85"/><circle class="p4" cx="347.1" cy="500.9" r="2.85"/><circle class="p3" cx="799.1" cy="383.2" r="2.85"/><circle class="p5" cx="386.8" cy="361.8" r="2.85"/><circle class="p2" cx="350" cy="493.7" r="2.85"/><circle class="p2" cx="446.7" cy="439.4" r="2.85"/><circle class="p5" cx="403.9" cy="394.2" r="2.85"/><circle class="p4" cx="289.2" cy="504.9" r="2.85"/><circle class="p3" cx="294.6" cy="507.2" r="2.85"/><circle class="p4" cx="379.3" cy="486.8" r="2.85"/><circle class="p6" cx="368.4" cy="490.2" r="2.85"/><circle class="p2" cx="438.4" cy="351.6" r="2.85"/><circle class="p2" cx="301.4" cy="501.4" r="2.85"/><circle class="p2" cx="290.2" cy="496.9" r="2.85"/><circle class="p4" cx="284.7" cy="512.2" r="2.85"/><circle class="p3" cx="452" cy="462.5" r="2.85"/><circle class="p2" cx="404.9" cy="430.1" r="2.85"/><circle class="p6" cx="404.4" cy="448.8" r="2.85"/><circle class="p4" cx="288.7" cy="513.3" r="2.85"/><circle class="p6" cx="419.5" cy="459.6" r="2.85"/><circle class="p4" cx="340.1" cy="477.5" r="2.85"/><circle class="p5" cx="418.3" cy="379.1" r="2.85"/><circle class="p5" cx="516.9" cy="343.7" r="2.85"/><circle class="p4" cx="325.5" cy="475" r="2.85"/><circle class="p6" cx="374.5" cy="496" r="2.85"/><circle class="p5" cx="303.6" cy="502.4" r="2.85"/><circle class="p3" cx="395.3" cy="448.7" r="2.85"/><circle class="p5" cx="313.7" cy="483" r="2.85"/><circle class="p5" cx="295.2" cy="501.6" r="2.85"/><circle class="p6" cx="343.6" cy="476.9" r="2.85"/><circle class="p0" cx="371.6" cy="459.9" r="2.85"/><circle class="p2" cx="418.1" cy="446.9" r="2.85"/><circle class="p5" cx="325.9" cy="506.4" r="2.85"/><circle class="p0" cx="709.7" cy="269.4" r="2.85"/><circle class="p5" cx="357.8" cy="452.1" r="2.85"/><circle class="p5" cx="481.9" cy="412.7" r="2.85"/><circle class="p3" cx="371.6" cy="485.7" r="2.85"/><circle class="p4" cx="369.4" cy="453" r="2.85"/><circle class="p6" cx="540.5" cy="382.2" r="2.85"/><circle class="p5" cx="531.4" cy="319.8" r="2.85"/><circle class="p1" cx="333.6" cy="487.5" r="2.85"/><circle class="p4" cx="352.3" cy="456.1" r="2.85"/><circle class="p5" cx="510" cy="469.5" r="2.85"/><circle class="p6" cx="333.1" cy="478.6" r="2.85"/><circle class="p6" cx="737" cy="377.8" r="2.85"/><circle class="p2" cx="477.9" cy="417.6" r="2.85"/><circle class="p2" cx="383.3" cy="507.2" r="2.85"/><circle class="p4" cx="479.3" cy="420.5" r="2.85"/><circle class="p5" cx="408.5" cy="387.6" r="2.85"/><circle class="p6" cx="334.7" cy="462.9" r="2.85"/><circle class="p5" cx="320.3" cy="487.9" r="2.85"/><circle class="p4" cx="284.4" cy="513.4" r="2.85"/><circle class="p4" cx="316.4" cy="484.2" r="2.85"/><circle class="p3" cx="328.5" cy="477" r="2.85"/><circle class="p3" cx="495.8" cy="438.6" r="2.85"/><circle class="p5" cx="277" cy="521.1" r="2.85"/><circle class="p4" cx="435.6" cy="404" r="2.85"/><circle class="p0" cx="620.4" cy="352.5" r="2.85"/><circle class="p3" cx="401" cy="332.2" r="2.85"/><circle class="p5" cx="282.7" cy="513.7" r="2.85"/><circle class="p5" cx="389.8" cy="361.3" r="2.85"/><circle class="p2" cx="340.8" cy="391" r="2.85"/><circle class="p3" cx="403.9" cy="389.1" r="2.85"/><circle class="p4" cx="281.1" cy="517.7" r="2.85"/><circle class="p6" cx="317.2" cy="445.4" r="2.85"/><circle class="p6" cx="290.3" cy="506.2" r="2.85"/><circle class="p2" cx="313.7" cy="491.4" r="2.85"/><circle class="p5" cx="349" cy="446.5" r="2.85"/><circle class="p1" cx="399.5" cy="442.6" r="2.85"/><circle class="p0" cx="373.1" cy="480.2" r="2.85"/><circle class="p0" cx="610.9" cy="152.8" r="2.85"/><circle class="p0" cx="341.6" cy="444.7" r="2.85"/><circle class="p0" cx="377.6" cy="252.4" r="2.85"/><circle class="p2" cx="519" cy="395.5" r="2.85"/><circle class="p3" cx="291.2" cy="506.8" r="2.85"/><circle class="p3" cx="360.8" cy="475.2" r="2.85"/><circle class="p3" cx="409.7" cy="424.1" r="2.85"/><circle class="p4" cx="409.8" cy="327" r="2.85"/><circle class="p0" cx="644" cy="352.1" r="2.85"/><circle class="p6" cx="344.2" cy="482.8" r="2.85"/><circle class="p4" cx="280.8" cy="515.3" r="2.85"/><circle class="p4" cx="317.9" cy="491.6" r="2.85"/><circle class="p1" cx="426.4" cy="390.4" r="2.85"/><circle class="p3" cx="311.5" cy="486.8" r="2.85"/><circle class="p4" cx="376.3" cy="463.9" r="2.85"/><circle class="p4" cx="376" cy="353.2" r="2.85"/><circle class="p4" cx="321.6" cy="486" r="2.85"/><circle class="p0" cx="516.6" cy="396" r="2.85"/><circle class="p3" cx="293.6" cy="510.1" r="2.85"/><circle class="p2" cx="376.1" cy="408.5" r="2.85"/><circle class="p3" cx="350.2" cy="466.1" r="2.85"/><circle class="p3" cx="343" cy="474.5" r="2.85"/><circle class="p3" cx="285.8" cy="494.2" r="2.85"/><circle class="p6" cx="575.3" cy="138.3" r="2.85"/><circle class="p3" cx="371.9" cy="499.7" r="2.85"/><circle class="p3" cx="329.3" cy="461.7" r="2.85"/><circle class="p0" cx="598.5" cy="425.8" r="2.85"/><circle class="p0" cx="555.9" cy="307.7" r="2.85"/><circle class="p3" cx="324.7" cy="465" r="2.85"/><circle class="p5" cx="438" cy="355.3" r="2.85"/><circle class="p4" cx="416.6" cy="397.7" r="2.85"/><circle class="p6" cx="507.9" cy="343" r="2.85"/><circle class="p6" cx="327.6" cy="466.3" r="2.85"/><circle class="p5" cx="316" cy="487" r="2.85"/><circle class="p4" cx="464.3" cy="322.3" r="2.85"/><circle class="p5" cx="503.2" cy="380.7" r="2.85"/><circle class="p4" cx="309" cy="496.9" r="2.85"/><circle class="p5" cx="408.5" cy="415.9" r="2.85"/><circle class="p5" cx="378.3" cy="466.5" r="2.85"/><circle class="p4" cx="349.9" cy="461.6" r="2.85"/><circle class="p5" cx="327.5" cy="485.6" r="2.85"/><circle class="p6" cx="324.9" cy="518.7" r="2.85"/><circle class="p4" cx="368.8" cy="450.3" r="2.85"/><circle class="p0" cx="519.4" cy="325.1" r="2.85"/><circle class="p0" cx="392.5" cy="241.3" r="2.85"/><circle class="p6" cx="410.2" cy="438.1" r="2.85"/><circle class="p4" cx="383.9" cy="476.3" r="2.85"/><circle class="p4" cx="410.2" cy="397.7" r="2.85"/><circle class="p0" cx="511.6" cy="417.9" r="2.85"/><circle class="p1" cx="391.5" cy="445.3" r="2.85"/><circle class="p4" cx="331.3" cy="451.3" r="2.85"/><circle class="p6" cx="449.8" cy="407.7" r="2.85"/><circle class="p0" cx="574.1" cy="250.8" r="2.85"/><circle class="p0" cx="514.5" cy="458.8" r="2.85"/><circle class="p0" cx="337.6" cy="354.6" r="2.85"/><circle class="p4" cx="314.8" cy="510.2" r="2.85"/><circle class="p4" cx="334" cy="462.6" r="2.85"/><circle class="p4" cx="391" cy="369.4" r="2.85"/><circle class="p0" cx="688.2" cy="406.3" r="2.85"/><circle class="p1" cx="313.2" cy="471.8" r="2.85"/><circle class="p4" cx="496.5" cy="384.3" r="2.85"/><circle class="p5" cx="419.3" cy="376.3" r="2.85"/><circle class="p3" cx="437.3" cy="387.1" r="2.85"/><circle class="p3" cx="295.4" cy="504.2" r="2.85"/><circle class="p3" cx="354.3" cy="370.5" r="2.85"/><circle class="p4" cx="354.1" cy="421.9" r="2.85"/><circle class="p1" cx="358.1" cy="407.5" r="2.85"/><circle class="p0" cx="369.2" cy="422.5" r="2.85"/><circle class="p6" cx="299.2" cy="504.5" r="2.85"/><circle class="p6" cx="395.4" cy="456.9" r="2.85"/><circle class="p6" cx="356.8" cy="453.9" r="2.85"/><circle class="p1" cx="307.9" cy="495.2" r="2.85"/><circle class="p3" cx="278.4" cy="512.2" r="2.85"/><circle class="p5" cx="339" cy="474.4" r="2.85"/><circle class="p2" cx="395.8" cy="469.6" r="2.85"/><circle class="p5" cx="310.2" cy="495.5" r="2.85"/><circle class="p3" cx="344.3" cy="461.7" r="2.85"/><circle class="p3" cx="395.1" cy="378.5" r="2.85"/><circle class="p5" cx="374.7" cy="511.1" r="2.85"/><circle class="p6" cx="316.7" cy="456.5" r="2.85"/><circle class="p4" cx="300.3" cy="495.1" r="2.85"/><circle class="p4" cx="389.8" cy="453.7" r="2.85"/><circle class="p1" cx="316.8" cy="499.1" r="2.85"/><circle class="p5" cx="344.9" cy="463.6" r="2.85"/><circle class="p3" cx="495.8" cy="311" r="2.85"/><circle class="p5" cx="312" cy="492.5" r="2.85"/><circle class="p3" cx="368.6" cy="438.1" r="2.85"/><circle class="p1" cx="384.4" cy="444.8" r="2.85"/><circle class="p5" cx="486.2" cy="407.1" r="2.85"/><circle class="p4" cx="481.8" cy="367.4" r="2.85"/><circle class="p5" cx="277.2" cy="521.1" r="2.85"/><circle class="p5" cx="388.5" cy="335.9" r="2.85"/><circle class="p1" cx="438.6" cy="421.5" r="2.85"/><circle class="p6" cx="299.8" cy="503.2" r="2.85"/><circle class="p5" cx="284.4" cy="512.1" r="2.85"/><circle class="p6" cx="336.8" cy="476" r="2.85"/><circle class="p6" cx="406.8" cy="430.4" r="2.85"/><circle class="p4" cx="306" cy="493.2" r="2.85"/><circle class="p1" cx="397.8" cy="492.4" r="2.85"/><circle class="p5" cx="384.2" cy="445.3" r="2.85"/><circle class="p3" cx="434.2" cy="425.5" r="2.85"/><circle class="p3" cx="303.3" cy="493.8" r="2.85"/><circle class="p3" cx="570.3" cy="415.4" r="2.85"/><circle class="p3" cx="346.3" cy="404" r="2.85"/><circle class="p0" cx="410.6" cy="399.1" r="2.85"/><circle class="p6" cx="333.5" cy="441.9" r="2.85"/><circle class="p2" cx="349.1" cy="454.7" r="2.85"/><circle class="p2" cx="348.8" cy="458.9" r="2.85"/><circle class="p3" cx="358.8" cy="375.5" r="2.85"/><circle class="p6" cx="401.8" cy="406.4" r="2.85"/><circle class="p2" cx="341.3" cy="481.9" r="2.85"/><circle class="p5" cx="412.3" cy="499.5" r="2.85"/><circle class="p3" cx="398" cy="508" r="2.85"/><circle class="p4" cx="358.1" cy="416.6" r="2.85"/><circle class="p3" cx="302.7" cy="501" r="2.85"/><circle class="p5" cx="320.6" cy="472.7" r="2.85"/><circle class="p6" cx="359.6" cy="422.7" r="2.85"/><circle class="p3" cx="422.3" cy="352" r="2.85"/><circle class="p4" cx="354.2" cy="422" r="2.85"/><circle class="p2" cx="470" cy="423" r="2.85"/><circle class="p6" cx="324.1" cy="483.7" r="2.85"/><circle class="p6" cx="492.3" cy="334.3" r="2.85"/><circle class="p3" cx="460.4" cy="360.4" r="2.85"/><circle class="p5" cx="392.4" cy="466.1" r="2.85"/><circle class="p4" cx="510.1" cy="370.9" r="2.85"/><circle class="p5" cx="318.6" cy="483.3" r="2.85"/><circle class="p3" cx="364.3" cy="467.1" r="2.85"/><circle class="p4" cx="319.6" cy="486.1" r="2.85"/><circle class="p2" cx="420.7" cy="454.4" r="2.85"/><circle class="p5" cx="459.1" cy="332.2" r="2.85"/><circle class="p4" cx="280.3" cy="519.3" r="2.85"/><circle class="p1" cx="519.9" cy="226.8" r="2.85"/><circle class="p6" cx="352.9" cy="403.3" r="2.85"/><circle class="p1" cx="337.6" cy="480.1" r="2.85"/><circle class="p3" cx="334.5" cy="471.3" r="2.85"/><circle class="p3" cx="335.6" cy="473.7" r="2.85"/><circle class="p4" cx="357.3" cy="464.2" r="2.85"/><circle class="p6" cx="364.9" cy="457.1" r="2.85"/><circle class="p0" cx="348.6" cy="307.3" r="2.85"/><circle class="p4" cx="298" cy="502.9" r="2.85"/><circle class="p1" cx="461.9" cy="451.4" r="2.85"/><circle class="p4" cx="315" cy="492.4" r="2.85"/><circle class="p3" cx="332.5" cy="444.2" r="2.85"/><circle class="p5" cx="296.2" cy="503.9" r="2.85"/><circle class="p3" cx="577.4" cy="407.1" r="2.85"/><circle class="p0" cx="334.1" cy="436.6" r="2.85"/><circle class="p4" cx="410.9" cy="425.6" r="2.85"/><circle class="p3" cx="328.4" cy="488.5" r="2.85"/><circle class="p4" cx="358.7" cy="448.7" r="2.85"/><circle class="p4" cx="288.4" cy="509.8" r="2.85"/><circle class="p4" cx="352.9" cy="354.1" r="2.85"/><circle class="p4" cx="304.3" cy="484" r="2.85"/><circle class="p5" cx="348.3" cy="457.2" r="2.85"/><circle class="p1" cx="482.7" cy="411.8" r="2.85"/><circle class="p6" cx="335.8" cy="474.7" r="2.85"/><circle class="p6" cx="314.7" cy="479.9" r="2.85"/><circle class="p4" cx="433.8" cy="388.9" r="2.85"/><circle class="p5" cx="399.3" cy="438.4" r="2.85"/><circle class="p5" cx="482.9" cy="329.7" r="2.85"/><circle class="p3" cx="440" cy="386.5" r="2.85"/><circle class="p0" cx="395" cy="226" r="2.85"/><circle class="p6" cx="322.4" cy="502.4" r="2.85"/><circle class="p3" cx="326.2" cy="478.4" r="2.85"/><circle class="p2" cx="487.9" cy="424.4" r="2.85"/><circle class="p5" cx="367" cy="360.8" r="2.85"/><circle class="p6" cx="316.3" cy="474.4" r="2.85"/><circle class="p1" cx="332.2" cy="459.2" r="2.85"/><circle class="p3" cx="370.8" cy="309.4" r="2.85"/><circle class="p6" cx="372" cy="457" r="2.85"/><circle class="p5" cx="331.9" cy="476.6" r="2.85"/><circle class="p4" cx="303" cy="498.8" r="2.85"/><circle class="p2" cx="493.3" cy="361" r="2.85"/><circle class="p0" cx="402" cy="502" r="2.85"/><circle class="p3" cx="335.9" cy="461.9" r="2.85"/><circle class="p3" cx="310.8" cy="477.9" r="2.85"/><circle class="p5" cx="298.8" cy="495.8" r="2.85"/><circle class="p2" cx="316.1" cy="489.6" r="2.85"/><circle class="p6" cx="333.4" cy="490.4" r="2.85"/><circle class="p4" cx="317.3" cy="474.8" r="2.85"/><circle class="p5" cx="362" cy="509" r="2.85"/><circle class="p3" cx="329.1" cy="490.9" r="2.85"/><circle class="p1" cx="433.7" cy="485.3" r="2.85"/><circle class="p2" cx="445" cy="402.1" r="2.85"/><circle class="p5" cx="324.8" cy="490.1" r="2.85"/><circle class="p3" cx="431.9" cy="439.1" r="2.85"/><circle class="p0" cx="411.5" cy="277.3" r="2.85"/><circle class="p4" cx="350.3" cy="399.7" r="2.85"/><circle class="p1" cx="489.6" cy="431.9" r="2.85"/><circle class="p4" cx="363.7" cy="384.5" r="2.85"/><circle class="p4" cx="451.8" cy="452.8" r="2.85"/><circle class="p4" cx="347.9" cy="461.3" r="2.85"/><circle class="p5" cx="334.1" cy="488.3" r="2.85"/><circle class="p6" cx="642.7" cy="232.6" r="2.85"/><circle class="p6" cx="371.2" cy="471.8" r="2.85"/><circle class="p2" cx="415.7" cy="340.5" r="2.85"/><circle class="p1" cx="295.1" cy="503.5" r="2.85"/><circle class="p2" cx="313.8" cy="462.2" r="2.85"/><circle class="p1" cx="428.3" cy="407.6" r="2.85"/><circle class="p6" cx="340.1" cy="490.6" r="2.85"/><circle class="p5" cx="486" cy="296.3" r="2.85"/><circle class="p4" cx="329" cy="441.3" r="2.85"/><circle class="p2" cx="356.6" cy="420.1" r="2.85"/><circle class="p4" cx="297.2" cy="503.2" r="2.85"/><circle class="p4" cx="291.3" cy="508.1" r="2.85"/><circle class="p4" cx="347.3" cy="475.6" r="2.85"/><circle class="p6" cx="551" cy="374.2" r="2.85"/><circle class="p6" cx="329.3" cy="461.5" r="2.85"/><circle class="p5" cx="491.9" cy="328" r="2.85"/><circle class="p5" cx="660.5" cy="284.3" r="2.85"/><circle class="p2" cx="349.1" cy="492.7" r="2.85"/><circle class="p2" cx="501" cy="402.6" r="2.85"/><circle class="p1" cx="529.8" cy="411.3" r="2.85"/><circle class="p2" cx="580.7" cy="416.7" r="2.85"/><circle class="p6" cx="384" cy="429.7" r="2.85"/><circle class="p5" cx="570.3" cy="323.6" r="2.85"/><circle class="p2" cx="655.1" cy="365" r="2.85"/><circle class="p1" cx="663.4" cy="318.2" r="2.85"/><circle class="p0" cx="835.1" cy="388.9" r="2.85"/><circle class="p5" cx="295.4" cy="506.2" r="2.85"/><circle class="p5" cx="425.2" cy="447.6" r="2.85"/><circle class="p5" cx="572.4" cy="274.8" r="2.85"/><circle class="p0" cx="413.6" cy="246.6" r="2.85"/><circle class="p3" cx="487.5" cy="405.4" r="2.85"/><circle class="p5" cx="355.7" cy="409.4" r="2.85"/><circle class="p4" cx="319" cy="492.9" r="2.85"/><circle class="p4" cx="324.8" cy="463.8" r="2.85"/><circle class="p2" cx="403.2" cy="423.9" r="2.85"/><circle class="p2" cx="334.6" cy="457.3" r="2.85"/><circle class="p3" cx="320.5" cy="478.5" r="2.85"/><circle class="p1" cx="662.6" cy="369.9" r="2.85"/><circle class="p1" cx="413.3" cy="461.2" r="2.85"/><circle class="p0" cx="550.8" cy="403.2" r="2.85"/><circle class="p4" cx="323" cy="466.4" r="2.85"/><circle class="p1" cx="381" cy="463.1" r="2.85"/><circle class="p5" cx="310.9" cy="487.8" r="2.85"/><circle class="p5" cx="304.3" cy="501.5" r="2.85"/><circle class="p4" cx="325.7" cy="478.4" r="2.85"/><circle class="p0" cx="338.9" cy="455.4" r="2.85"/><circle class="p5" cx="291.2" cy="497" r="2.85"/><circle class="p3" cx="594.3" cy="221.8" r="2.85"/><circle class="p3" cx="483.1" cy="271.9" r="2.85"/><circle class="p1" cx="475" cy="445.1" r="2.85"/><circle class="p3" cx="279.7" cy="514.7" r="2.85"/><circle class="p4" cx="428.7" cy="466.2" r="2.85"/><circle class="p5" cx="430.7" cy="388.8" r="2.85"/><circle class="p3" cx="356.8" cy="447.1" r="2.85"/><circle class="p1" cx="401.5" cy="428.7" r="2.85"/><circle class="p4" cx="333.2" cy="475.6" r="2.85"/><circle class="p4" cx="411.3" cy="473" r="2.85"/><circle class="p1" cx="470.5" cy="316.3" r="2.85"/><circle class="p3" cx="363" cy="475.3" r="2.85"/><circle class="p4" cx="354" cy="449.4" r="2.85"/><circle class="p4" cx="324.3" cy="477.7" r="2.85"/><circle class="p3" cx="413" cy="355.8" r="2.85"/><circle class="p5" cx="354.5" cy="339.2" r="2.85"/><circle class="p5" cx="312.4" cy="482.6" r="2.85"/><circle class="p5" cx="601.4" cy="334.8" r="2.85"/><circle class="p1" cx="386.1" cy="356.4" r="2.85"/><circle class="p3" cx="289.5" cy="509.6" r="2.85"/><circle class="p5" cx="311.6" cy="496.1" r="2.85"/><circle class="p4" cx="298.9" cy="499.4" r="2.85"/><circle class="p2" cx="516.8" cy="391.7" r="2.85"/><circle class="p5" cx="291" cy="505.6" r="2.85"/><circle class="p5" cx="332.2" cy="472.9" r="2.85"/><circle class="p3" cx="347.5" cy="459.1" r="2.85"/><circle class="p3" cx="322.7" cy="485.1" r="2.85"/><circle class="p6" cx="414.7" cy="394.8" r="2.85"/><circle class="p2" cx="374.8" cy="423.7" r="2.85"/><circle class="p0" cx="535.5" cy="415.8" r="2.85"/><circle class="p2" cx="404.5" cy="298.4" r="2.85"/><circle class="p4" cx="377.4" cy="372.8" r="2.85"/><circle class="p3" cx="289" cy="490.5" r="2.85"/><circle class="p5" cx="302" cy="497.5" r="2.85"/><circle class="p2" cx="309.9" cy="487.1" r="2.85"/><circle class="p2" cx="380.3" cy="473" r="2.85"/><circle class="p3" cx="727.9" cy="308.7" r="2.85"/><circle class="p5" cx="377.1" cy="462.7" r="2.85"/><circle class="p5" cx="347.1" cy="483" r="2.85"/><circle class="p5" cx="332.3" cy="475.5" r="2.85"/><circle class="p5" cx="396" cy="358.9" r="2.85"/><circle class="p4" cx="412.2" cy="472.8" r="2.85"/><circle class="p4" cx="319.8" cy="498.2" r="2.85"/><circle class="p5" cx="416.8" cy="362.9" r="2.85"/><circle class="p3" cx="285.7" cy="513.3" r="2.85"/><circle class="p5" cx="305.2" cy="502.8" r="2.85"/><circle class="p2" cx="290.9" cy="507.9" r="2.85"/><circle class="p4" cx="382.3" cy="379.5" r="2.85"/><circle class="p4" cx="334.7" cy="462.8" r="2.85"/><circle class="p5" cx="397.9" cy="411.4" r="2.85"/><circle class="p3" cx="453.3" cy="343.1" r="2.85"/><circle class="p4" cx="297.1" cy="503.8" r="2.85"/><circle class="p4" cx="323.9" cy="473.3" r="2.85"/><circle class="p6" cx="323.1" cy="504.8" r="2.85"/><circle class="p6" cx="378.8" cy="424.2" r="2.85"/><circle class="p0" cx="297.7" cy="481.6" r="2.85"/><circle class="p5" cx="367.3" cy="502.6" r="2.85"/><circle class="p2" cx="447.7" cy="392.9" r="2.85"/><circle class="p5" cx="469.8" cy="399" r="2.85"/><circle class="p4" cx="318.5" cy="437.8" r="2.85"/><circle class="p0" cx="421" cy="508.3" r="2.85"/><circle class="p4" cx="433.6" cy="323.3" r="2.85"/><circle class="p4" cx="353.5" cy="511.3" r="2.85"/><circle class="p2" cx="371.2" cy="463.5" r="2.85"/><circle class="p5" cx="467" cy="321.7" r="2.85"/><circle class="p5" cx="293.8" cy="506.2" r="2.85"/><circle class="p2" cx="294.7" cy="504.1" r="2.85"/><circle class="p6" cx="293.4" cy="505.7" r="2.85"/><circle class="p1" cx="363.2" cy="469.3" r="2.85"/><circle class="p6" cx="318.7" cy="476.7" r="2.85"/><circle class="p3" cx="442.4" cy="350.7" r="2.85"/><circle class="p6" cx="343.4" cy="450.2" r="2.85"/><circle class="p5" cx="281.6" cy="516" r="2.85"/><circle class="p5" cx="386.9" cy="423.4" r="2.85"/><circle class="p3" cx="301" cy="497.7" r="2.85"/><circle class="p5" cx="284.2" cy="514.7" r="2.85"/><circle class="p0" cx="466.7" cy="356.9" r="2.85"/><circle class="p5" cx="366.4" cy="468.8" r="2.85"/><circle class="p4" cx="299.5" cy="504.7" r="2.85"/><circle class="p1" cx="570.3" cy="283.1" r="2.85"/><circle class="p4" cx="398.2" cy="403.4" r="2.85"/><circle class="p3" cx="735" cy="352.1" r="2.85"/><circle class="p5" cx="356.9" cy="457.3" r="2.85"/><circle class="p4" cx="320.1" cy="487.2" r="2.85"/><circle class="p5" cx="283.6" cy="512.8" r="2.85"/><circle class="p5" cx="430.7" cy="422.2" r="2.85"/><circle class="p3" cx="329" cy="486.7" r="2.85"/><circle class="p4" cx="466" cy="426.4" r="2.85"/><circle class="p0" cx="368.4" cy="461.4" r="2.85"/><circle class="p5" cx="339.3" cy="468.2" r="2.85"/><circle class="p0" cx="651" cy="389.8" r="2.85"/><circle class="p3" cx="424.9" cy="432.9" r="2.85"/><circle class="p3" cx="477.3" cy="399.1" r="2.85"/><circle class="p6" cx="367.4" cy="518.2" r="2.85"/><circle class="p2" cx="492.8" cy="392.9" r="2.85"/><circle class="p3" cx="293.5" cy="504.6" r="2.85"/><circle class="p4" cx="287.1" cy="511.6" r="2.85"/><circle class="p0" cx="587.3" cy="247.5" r="2.85"/><circle class="p0" cx="386.2" cy="353.6" r="2.85"/><circle class="p3" cx="369.1" cy="426.4" r="2.85"/><circle class="p5" cx="324.6" cy="467.8" r="2.85"/><circle class="p2" cx="348" cy="424.6" r="2.85"/><circle class="p1" cx="496.8" cy="399.1" r="2.85"/><circle class="p1" cx="411.7" cy="372.2" r="2.85"/><circle class="p4" cx="306.7" cy="494.2" r="2.85"/><circle class="p0" cx="554.2" cy="159.8" r="2.85"/><circle class="p4" cx="363.4" cy="421.1" r="2.85"/><circle class="p0" cx="456.2" cy="128.8" r="2.85"/><circle class="p3" cx="349.6" cy="433.8" r="2.85"/><circle class="p2" cx="384.6" cy="353.7" r="2.85"/><circle class="p5" cx="337.6" cy="463.5" r="2.85"/><circle class="p5" cx="304.2" cy="496.8" r="2.85"/><circle class="p2" cx="365.6" cy="403.9" r="2.85"/><circle class="p0" cx="281.7" cy="520.7" r="2.85"/><circle class="p2" cx="355.1" cy="472.3" r="2.85"/><circle class="p3" cx="320.1" cy="480.2" r="2.85"/><circle class="p5" cx="290.6" cy="508.8" r="2.85"/><circle class="p4" cx="300.2" cy="500.1" r="2.85"/><circle class="p1" cx="539.3" cy="373.1" r="2.85"/><circle class="p4" cx="300.3" cy="508.8" r="2.85"/><circle class="p5" cx="351.6" cy="495.7" r="2.85"/><circle class="p3" cx="559.5" cy="430.4" r="2.85"/><circle class="p3" cx="383.3" cy="392.8" r="2.85"/><circle class="p3" cx="347.4" cy="468.3" r="2.85"/><circle class="p5" cx="358.8" cy="469.5" r="2.85"/><circle class="p2" cx="398.7" cy="394.3" r="2.85"/><circle class="p4" cx="367.4" cy="447.8" r="2.85"/><circle class="p6" cx="301.1" cy="498.3" r="2.85"/><circle class="p1" cx="460.6" cy="319.8" r="2.85"/><circle class="p1" cx="365" cy="470.1" r="2.85"/><circle class="p6" cx="320.1" cy="484.3" r="2.85"/><circle class="p2" cx="390.7" cy="361" r="2.85"/><circle class="p2" cx="762.7" cy="361.6" r="2.85"/><circle class="p1" cx="445.2" cy="426.5" r="2.85"/><circle class="p5" cx="394.3" cy="440.1" r="2.85"/><circle class="p2" cx="301.2" cy="499.9" r="2.85"/><circle class="p5" cx="874.4" cy="408.4" r="2.85"/><circle class="p5" cx="360.5" cy="484.3" r="2.85"/><circle class="p4" cx="352.4" cy="479.5" r="2.85"/><circle class="p1" cx="550.6" cy="363.5" r="2.85"/><circle class="p0" cx="436.6" cy="373.2" r="2.85"/><circle class="p4" cx="364.6" cy="478.4" r="2.85"/><circle class="p3" cx="344" cy="450.4" r="2.85"/><circle class="p3" cx="539.3" cy="424.9" r="2.85"/><circle class="p1" cx="357.5" cy="438.6" r="2.85"/><circle class="p4" cx="328.2" cy="480.2" r="2.85"/><circle class="p4" cx="329.4" cy="484.1" r="2.85"/><circle class="p5" cx="279.1" cy="520.1" r="2.85"/><circle class="p3" cx="298.4" cy="502.2" r="2.85"/><circle class="p3" cx="772.6" cy="376.1" r="2.85"/><circle class="p4" cx="325.4" cy="491.9" r="2.85"/><circle class="p6" cx="306.8" cy="504.5" r="2.85"/><circle class="p1" cx="294.9" cy="503.1" r="2.85"/><circle class="p6" cx="669.6" cy="374.1" r="2.85"/><circle class="p3" cx="359.9" cy="497.7" r="2.85"/><circle class="p5" cx="537.1" cy="375" r="2.85"/><circle class="p5" cx="470.9" cy="313.5" r="2.85"/><circle class="p3" cx="302.2" cy="505.2" r="2.85"/><circle class="p4" cx="398.9" cy="428.2" r="2.85"/><circle class="p5" cx="308.7" cy="494.5" r="2.85"/><circle class="p4" cx="444" cy="405.7" r="2.85"/><circle class="p5" cx="287.3" cy="509.7" r="2.85"/><circle class="p6" cx="352.8" cy="382.2" r="2.85"/><circle class="p5" cx="399.7" cy="326.5" r="2.85"/><circle class="p1" cx="416.7" cy="439.5" r="2.85"/><circle class="p1" cx="351.3" cy="477.9" r="2.85"/><circle class="p5" cx="311.8" cy="492.9" r="2.85"/><circle class="p6" cx="419.2" cy="400.8" r="2.85"/><circle class="p2" cx="309" cy="455.2" r="2.85"/><circle class="p0" cx="360.5" cy="333.1" r="2.85"/><circle class="p3" cx="319.4" cy="460.9" r="2.85"/><circle class="p5" cx="298.7" cy="501.4" r="2.85"/><circle class="p0" cx="376.8" cy="280.1" r="2.85"/><circle class="p3" cx="393.5" cy="475" r="2.85"/><circle class="p4" cx="303" cy="487.1" r="2.85"/><circle class="p4" cx="341.3" cy="476.9" r="2.85"/><circle class="p6" cx="494.5" cy="378.7" r="2.85"/><circle class="p3" cx="344.4" cy="471.6" r="2.85"/><circle class="p3" cx="519.8" cy="386.4" r="2.85"/><circle class="p4" cx="385.6" cy="482.5" r="2.85"/><circle class="p5" cx="302.5" cy="497" r="2.85"/><circle class="p5" cx="450.5" cy="395.4" r="2.85"/><circle class="p5" cx="363.7" cy="443.6" r="2.85"/><circle class="p5" cx="317.2" cy="493.7" r="2.85"/><circle class="p6" cx="355.7" cy="472.6" r="2.85"/><circle class="p5" cx="346.7" cy="459.7" r="2.85"/><circle class="p5" cx="327" cy="484.4" r="2.85"/><circle class="p3" cx="330.5" cy="505.4" r="2.85"/><circle class="p1" cx="368.3" cy="507" r="2.85"/><circle class="p5" cx="387.4" cy="484.9" r="2.85"/><circle class="p2" cx="324.5" cy="405.1" r="2.85"/><circle class="p0" cx="349.8" cy="474" r="2.85"/><circle class="p5" cx="344.5" cy="488.2" r="2.85"/><circle class="p6" cx="374.2" cy="445.7" r="2.85"/><circle class="p4" cx="373.8" cy="473.6" r="2.85"/><circle class="p4" cx="411.5" cy="352" r="2.85"/><circle class="p6" cx="410.2" cy="421.6" r="2.85"/><circle class="p5" cx="303.7" cy="498.6" r="2.85"/><circle class="p3" cx="348.3" cy="480.1" r="2.85"/><circle class="p4" cx="359" cy="464.2" r="2.85"/><circle class="p2" cx="391.5" cy="419.7" r="2.85"/><circle class="p4" cx="315" cy="486.2" r="2.85"/><circle class="p4" cx="323" cy="467.6" r="2.85"/><circle class="p4" cx="286.3" cy="510.4" r="2.85"/><circle class="p4" cx="303.6" cy="498.4" r="2.85"/><circle class="p4" cx="466.6" cy="323.3" r="2.85"/><circle class="p0" cx="359" cy="271.5" r="2.85"/><circle class="p3" cx="342.5" cy="457.5" r="2.85"/><circle class="p2" cx="485.6" cy="426.7" r="2.85"/><circle class="p1" cx="291.9" cy="507.6" r="2.85"/><circle class="p3" cx="388.6" cy="376.3" r="2.85"/><circle class="p5" cx="284" cy="516.6" r="2.85"/><circle class="p6" cx="297" cy="501.6" r="2.85"/><circle class="p0" cx="407.5" cy="363.8" r="2.85"/><circle class="p0" cx="493" cy="208.2" r="2.85"/><circle class="p3" cx="389.1" cy="378.8" r="2.85"/><circle class="p3" cx="386.1" cy="444.1" r="2.85"/><circle class="p6" cx="279.6" cy="517.6" r="2.85"/><circle class="p5" cx="287.1" cy="508.2" r="2.85"/><circle class="p6" cx="369.6" cy="447.3" r="2.85"/><circle class="p6" cx="528.5" cy="432.5" r="2.85"/><circle class="p4" cx="402.2" cy="480.6" r="2.85"/><circle class="p5" cx="351.8" cy="508.1" r="2.85"/><circle class="p3" cx="794.1" cy="437.8" r="2.85"/><circle class="p2" cx="797.8" cy="390.6" r="2.85"/><circle class="p5" cx="298.7" cy="499.9" r="2.85"/><circle class="p5" cx="303.6" cy="492.1" r="2.85"/><circle class="p0" cx="358.8" cy="395.6" r="2.85"/><circle class="p2" cx="285.4" cy="514.8" r="2.85"/><circle class="p4" cx="451.7" cy="381.7" r="2.85"/><circle class="p4" cx="376.3" cy="445.3" r="2.85"/><circle class="p2" cx="331.2" cy="396.1" r="2.85"/><circle class="p4" cx="379.2" cy="439" r="2.85"/><circle class="p0" cx="927.3" cy="405.9" r="2.85"/><circle class="p5" cx="588.9" cy="432.4" r="2.85"/><circle class="p1" cx="529" cy="478.1" r="2.85"/><circle class="p6" cx="396.9" cy="354.4" r="2.85"/><circle class="p0" cx="429.3" cy="370" r="2.85"/><circle class="p0" cx="622.5" cy="274" r="2.85"/><circle class="p4" cx="398" cy="385.7" r="2.85"/><circle class="p3" cx="307.5" cy="499.3" r="2.85"/><circle class="p1" cx="395.3" cy="448.8" r="2.85"/><circle class="p4" cx="344.3" cy="464.6" r="2.85"/><circle class="p6" cx="333.1" cy="494.4" r="2.85"/><circle class="p5" cx="402" cy="408.2" r="2.85"/><circle class="p5" cx="343.5" cy="463.8" r="2.85"/><circle class="p0" cx="369.3" cy="252" r="2.85"/><circle class="p6" cx="330.8" cy="483.4" r="2.85"/><circle class="p1" cx="652.9" cy="233.6" r="2.85"/><circle class="p4" cx="436.4" cy="503.7" r="2.85"/><circle class="p6" cx="278.9" cy="518.6" r="2.85"/><circle class="p4" cx="358.2" cy="453.1" r="2.85"/><circle class="p0" cx="402.8" cy="364.1" r="2.85"/><circle class="p2" cx="423.4" cy="491.1" r="2.85"/><circle class="p3" cx="561.6" cy="386.4" r="2.85"/><circle class="p4" cx="369.3" cy="380.1" r="2.85"/><circle class="p6" cx="387.9" cy="409.2" r="2.85"/><circle class="p2" cx="330.5" cy="456.2" r="2.85"/><circle class="p3" cx="416.9" cy="413" r="2.85"/><circle class="p6" cx="347" cy="459.1" r="2.85"/><circle class="p5" cx="359.4" cy="433.3" r="2.85"/><circle class="p2" cx="388.1" cy="442.7" r="2.85"/><circle class="p0" cx="772.6" cy="350.9" r="2.85"/><circle class="p5" cx="279.9" cy="520" r="2.85"/><circle class="p0" cx="579.8" cy="435.7" r="2.85"/><circle class="p6" cx="736.7" cy="442.3" r="2.85"/><circle class="p4" cx="319.3" cy="484.3" r="2.85"/><circle class="p0" cx="453.9" cy="373.3" r="2.85"/><circle class="p3" cx="364.4" cy="406.3" r="2.85"/><circle class="p3" cx="341.2" cy="492.7" r="2.85"/><circle class="p1" cx="444.5" cy="439.4" r="2.85"/><circle class="p4" cx="431" cy="360.7" r="2.85"/><circle class="p6" cx="425.9" cy="443.7" r="2.85"/><circle class="p1" cx="467.6" cy="425.7" r="2.85"/><circle class="p2" cx="342.5" cy="468.7" r="2.85"/><circle class="p5" cx="581.5" cy="343" r="2.85"/><circle class="p0" cx="494.6" cy="208.2" r="2.85"/><circle class="p4" cx="347.6" cy="451.2" r="2.85"/><circle class="p5" cx="367" cy="441.8" r="2.85"/><circle class="p0" cx="665.5" cy="348.4" r="2.85"/><circle class="p4" cx="443.7" cy="442" r="2.85"/><circle class="p5" cx="311.5" cy="491.5" r="2.85"/><circle class="p3" cx="331" cy="431.6" r="2.85"/><circle class="p4" cx="420.4" cy="457.5" r="2.85"/><circle class="p5" cx="361.4" cy="455.5" r="2.85"/><circle class="p4" cx="286.7" cy="511.8" r="2.85"/><circle class="p3" cx="434.6" cy="469.2" r="2.85"/><circle class="p4" cx="341.9" cy="469.2" r="2.85"/><circle class="p1" cx="329.8" cy="450.4" r="2.85"/><circle class="p3" cx="349.8" cy="429" r="2.85"/><circle class="p5" cx="444.7" cy="418.5" r="2.85"/><circle class="p1" cx="377.3" cy="355.4" r="2.85"/><circle class="p4" cx="459.7" cy="499.7" r="2.85"/><circle class="p6" cx="279.8" cy="518.1" r="2.85"/><circle class="p3" cx="353.3" cy="395.7" r="2.85"/><circle class="p5" cx="434.9" cy="408.7" r="2.85"/><circle class="p6" cx="289.7" cy="511.3" r="2.85"/><circle class="p3" cx="314.7" cy="458.1" r="2.85"/><circle class="p5" cx="757.3" cy="331.4" r="2.85"/><circle class="p2" cx="662.6" cy="322.3" r="2.85"/><circle class="p1" cx="462.2" cy="420.2" r="2.85"/><circle class="p4" cx="608.3" cy="439" r="2.85"/><circle class="p0" cx="554.2" cy="367.4" r="2.85"/><circle class="p4" cx="291.1" cy="509.8" r="2.85"/><circle class="p1" cx="527" cy="413" r="2.85"/><circle class="p5" cx="331.6" cy="492.5" r="2.85"/><circle class="p2" cx="318.5" cy="484.9" r="2.85"/><circle class="p3" cx="515.5" cy="378.4" r="2.85"/><circle class="p3" cx="305.9" cy="496.2" r="2.85"/><circle class="p4" cx="384.4" cy="411" r="2.85"/><circle class="p2" cx="339.6" cy="453.5" r="2.85"/><circle class="p3" cx="308.5" cy="489.4" r="2.85"/><circle class="p5" cx="358.3" cy="490.4" r="2.85"/><circle class="p2" cx="411" cy="302" r="2.85"/><circle class="p4" cx="675.6" cy="444.8" r="2.85"/><circle class="p3" cx="332.3" cy="490.1" r="2.85"/><circle class="p3" cx="482.3" cy="327" r="2.85"/><circle class="p4" cx="324.9" cy="427.2" r="2.85"/><circle class="p5" cx="496.5" cy="402.2" r="2.85"/><circle class="p0" cx="792.1" cy="310.4" r="2.85"/><circle class="p5" cx="513.5" cy="394.6" r="2.85"/><circle class="p4" cx="298.1" cy="505.9" r="2.85"/><circle class="p3" cx="334.9" cy="447.7" r="2.85"/><circle class="p5" cx="324.6" cy="464.3" r="2.85"/><circle class="p5" cx="417.9" cy="501.3" r="2.85"/><circle class="p4" cx="403.5" cy="426.2" r="2.85"/><circle class="p6" cx="408.2" cy="459.3" r="2.85"/><circle class="p1" cx="444.7" cy="445.9" r="2.85"/><circle class="p4" cx="305.6" cy="472.4" r="2.85"/><circle class="p3" cx="325.6" cy="464" r="2.85"/><circle class="p1" cx="342.7" cy="482.1" r="2.85"/><circle class="p5" cx="303.6" cy="496.5" r="2.85"/><circle class="p3" cx="342.6" cy="470.1" r="2.85"/><circle class="p6" cx="302.2" cy="500.7" r="2.85"/><circle class="p5" cx="350.9" cy="471.3" r="2.85"/><circle class="p6" cx="679.7" cy="473.3" r="2.85"/><circle class="p3" cx="372.8" cy="515.3" r="2.85"/><circle class="p5" cx="280" cy="514.5" r="2.85"/><circle class="p4" cx="295.6" cy="507.5" r="2.85"/><circle class="p2" cx="428.9" cy="485.7" r="2.85"/><circle class="p4" cx="309.9" cy="500.1" r="2.85"/><circle class="p3" cx="383.8" cy="408.8" r="2.85"/><circle class="p3" cx="401.4" cy="410.8" r="2.85"/><circle class="p4" cx="299.8" cy="499.3" r="2.85"/><circle class="p1" cx="432.7" cy="381.5" r="2.85"/><circle class="p3" cx="368.5" cy="463.1" r="2.85"/><circle class="p2" cx="317.9" cy="467.3" r="2.85"/><circle class="p4" cx="295.3" cy="502.5" r="2.85"/><circle class="p5" cx="300.7" cy="496.7" r="2.85"/><circle class="p3" cx="340" cy="459" r="2.85"/><circle class="p0" cx="391.4" cy="439.4" r="2.85"/><circle class="p2" cx="390.3" cy="395.4" r="2.85"/><circle class="p5" cx="290.2" cy="509.6" r="2.85"/><circle class="p3" cx="343.7" cy="430.7" r="2.85"/><circle class="p0" cx="382.1" cy="295.5" r="2.85"/><circle class="p3" cx="302.6" cy="498.4" r="2.85"/><circle class="p3" cx="395.5" cy="451.6" r="2.85"/><circle class="p0" cx="381.7" cy="299.2" r="2.85"/><circle class="p2" cx="313.6" cy="435.2" r="2.85"/><circle class="p5" cx="441.2" cy="342.8" r="2.85"/><circle class="p4" cx="355.7" cy="465.8" r="2.85"/><circle class="p5" cx="292.4" cy="503.7" r="2.85"/><circle class="p2" cx="392.7" cy="444.1" r="2.85"/><circle class="p4" cx="417.8" cy="479.6" r="2.85"/><circle class="p2" cx="369.1" cy="508.8" r="2.85"/><circle class="p4" cx="333.2" cy="470.1" r="2.85"/><circle class="p2" cx="490.4" cy="350.8" r="2.85"/><circle class="p5" cx="277" cy="520.2" r="2.85"/><circle class="p5" cx="357.7" cy="444.8" r="2.85"/><circle class="p4" cx="336.3" cy="502.7" r="2.85"/><circle class="p5" cx="552.2" cy="389.5" r="2.85"/><circle class="p2" cx="465.8" cy="372" r="2.85"/><circle class="p4" cx="355.6" cy="459.7" r="2.85"/><circle class="p5" cx="389.8" cy="353.3" r="2.85"/><circle class="p3" cx="454.7" cy="462.7" r="2.85"/><circle class="p5" cx="348.6" cy="461" r="2.85"/><circle class="p3" cx="313.2" cy="488.4" r="2.85"/><circle class="p5" cx="296.4" cy="506.6" r="2.85"/><circle class="p5" cx="343" cy="424.2" r="2.85"/><circle class="p5" cx="320.9" cy="495.3" r="2.85"/><circle class="p3" cx="305.3" cy="489" r="2.85"/><circle class="p2" cx="388.9" cy="455.7" r="2.85"/><circle class="p4" cx="337.3" cy="453.6" r="2.85"/><circle class="p6" cx="355.9" cy="466.7" r="2.85"/><circle class="p4" cx="532.7" cy="455.6" r="2.85"/><circle class="p1" cx="492.1" cy="392" r="2.85"/><circle class="p4" cx="468.3" cy="496.3" r="2.85"/><circle class="p4" cx="599.3" cy="378.2" r="2.85"/><circle class="p5" cx="339.7" cy="461.2" r="2.85"/><circle class="p3" cx="380.8" cy="460" r="2.85"/><circle class="p4" cx="379.3" cy="428.6" r="2.85"/><circle class="p6" cx="468.8" cy="354.2" r="2.85"/><circle class="p5" cx="338.4" cy="479.6" r="2.85"/><circle class="p2" cx="399.3" cy="372.6" r="2.85"/><circle class="p4" cx="306" cy="499.3" r="2.85"/><circle class="p6" cx="382.8" cy="437.2" r="2.85"/><circle class="p1" cx="373.9" cy="423.2" r="2.85"/><circle class="p4" cx="297" cy="500.4" r="2.85"/><circle class="p2" cx="344.4" cy="479.6" r="2.85"/><circle class="p3" cx="370.3" cy="457.7" r="2.85"/><circle class="p3" cx="375.5" cy="497.4" r="2.85"/><circle class="p2" cx="377.8" cy="468.5" r="2.85"/><circle class="p0" cx="454.4" cy="362.5" r="2.85"/><circle class="p1" cx="322.1" cy="460.7" r="2.85"/><circle class="p1" cx="422" cy="493.1" r="2.85"/><circle class="p4" cx="352.8" cy="471.7" r="2.85"/><circle class="p4" cx="473" cy="387" r="2.85"/><circle class="p2" cx="496.4" cy="397.8" r="2.85"/><circle class="p3" cx="314.4" cy="510.4" r="2.85"/><circle class="p6" cx="335.6" cy="460.7" r="2.85"/><circle class="p4" cx="374.8" cy="443.7" r="2.85"/><circle class="p3" cx="360.6" cy="474.1" r="2.85"/><circle class="p5" cx="293.5" cy="501.5" r="2.85"/><circle class="p5" cx="318.6" cy="498.6" r="2.85"/><circle class="p5" cx="342.1" cy="495.4" r="2.85"/><circle class="p2" cx="305.6" cy="499.9" r="2.85"/><circle class="p5" cx="302.4" cy="503.2" r="2.85"/><circle class="p4" cx="424.4" cy="402.3" r="2.85"/><circle class="p4" cx="453.8" cy="331.3" r="2.85"/><circle class="p1" cx="360.1" cy="503.8" r="2.85"/><circle class="p4" cx="334.8" cy="478.6" r="2.85"/><circle class="p3" cx="296.1" cy="508.3" r="2.85"/><circle class="p4" cx="344.2" cy="474.1" r="2.85"/><circle class="p6" cx="361.9" cy="427.8" r="2.85"/><circle class="p4" cx="284.9" cy="515" r="2.85"/><circle class="p1" cx="319.4" cy="489.7" r="2.85"/><circle class="p5" cx="381.5" cy="450.5" r="2.85"/><circle class="p2" cx="419.4" cy="370.4" r="2.85"/><circle class="p5" cx="307.9" cy="499.3" r="2.85"/><circle class="p0" cx="361.8" cy="312.3" r="2.85"/><circle class="p0" cx="344.4" cy="411.5" r="2.85"/><circle class="p6" cx="401.3" cy="422.1" r="2.85"/><circle class="p0" cx="347.8" cy="512.9" r="2.85"/><circle class="p6" cx="426.3" cy="419.3" r="2.85"/><circle class="p4" cx="354" cy="469.4" r="2.85"/><circle class="p5" cx="363.1" cy="440" r="2.85"/><circle class="p6" cx="419.5" cy="435.8" r="2.85"/><circle class="p5" cx="645.9" cy="448.9" r="2.85"/><circle class="p6" cx="402.4" cy="417.6" r="2.85"/><circle class="p5" cx="311.4" cy="426.7" r="2.85"/><circle class="p3" cx="535.2" cy="391" r="2.85"/><circle class="p3" cx="341.9" cy="497" r="2.85"/><circle class="p1" cx="370.5" cy="341.3" r="2.85"/><circle class="p0" cx="649.8" cy="302.9" r="2.85"/><circle class="p5" cx="280" cy="517.5" r="2.85"/><circle class="p0" cx="773" cy="451.4" r="2.85"/><circle class="p4" cx="377.2" cy="438.4" r="2.85"/><circle class="p1" cx="433.5" cy="501.1" r="2.85"/><circle class="p3" cx="438.2" cy="390.4" r="2.85"/><circle class="p3" cx="405.7" cy="462" r="2.85"/><circle class="p3" cx="342.1" cy="468.9" r="2.85"/><circle class="p4" cx="507.5" cy="397.7" r="2.85"/><circle class="p4" cx="309.9" cy="490.8" r="2.85"/><circle class="p3" cx="308.4" cy="497.5" r="2.85"/><circle class="p2" cx="512.6" cy="405.9" r="2.85"/><circle class="p1" cx="416.5" cy="347" r="2.85"/><circle class="p4" cx="306.1" cy="495.8" r="2.85"/><circle class="p1" cx="376.2" cy="344.8" r="2.85"/><circle class="p5" cx="282.7" cy="514.1" r="2.85"/><circle class="p4" cx="313.1" cy="485.8" r="2.85"/><circle class="p3" cx="442.7" cy="388.7" r="2.85"/><circle class="p3" cx="322.5" cy="485" r="2.85"/><circle class="p2" cx="488.6" cy="383.2" r="2.85"/><circle class="p3" cx="277.4" cy="519.9" r="2.85"/><circle class="p4" cx="445.4" cy="446.5" r="2.85"/><circle class="p5" cx="294.7" cy="505.1" r="2.85"/><circle class="p1" cx="405.4" cy="453.5" r="2.85"/><circle class="p2" cx="360" cy="422.6" r="2.85"/><circle class="p0" cx="593.1" cy="341" r="2.85"/><circle class="p4" cx="502.9" cy="393.5" r="2.85"/><circle class="p5" cx="324.9" cy="474.9" r="2.85"/><circle class="p4" cx="333.8" cy="461.2" r="2.85"/><circle class="p5" cx="426" cy="300.4" r="2.85"/><circle class="p4" cx="339.4" cy="467.4" r="2.85"/><circle class="p4" cx="460.2" cy="373.2" r="2.85"/><circle class="p2" cx="341.7" cy="481.4" r="2.85"/><circle class="p5" cx="301.2" cy="498.5" r="2.85"/><circle class="p3" cx="441.8" cy="394.7" r="2.85"/><circle class="p1" cx="515.9" cy="392.5" r="2.85"/><circle class="p0" cx="336.2" cy="172.6" r="2.85"/><circle class="p0" cx="424.9" cy="504" r="2.85"/><circle class="p5" cx="629.5" cy="267.7" r="2.85"/><circle class="p6" cx="413.5" cy="414" r="2.85"/><circle class="p2" cx="338.3" cy="495.1" r="2.85"/><circle class="p6" cx="381.1" cy="378.5" r="2.85"/><circle class="p4" cx="318.6" cy="489.3" r="2.85"/><circle class="p4" cx="388" cy="449.6" r="2.85"/><circle class="p4" cx="367.7" cy="495" r="2.85"/><circle class="p3" cx="283.2" cy="515.9" r="2.85"/><circle class="p5" cx="349.2" cy="455.9" r="2.85"/><circle class="p6" cx="510" cy="361.4" r="2.85"/><circle class="p2" cx="458.3" cy="463" r="2.85"/><circle class="p0" cx="300.9" cy="502.2" r="2.85"/><circle class="p4" cx="334.1" cy="460.1" r="2.85"/><circle class="p4" cx="446.8" cy="385.4" r="2.85"/><circle class="p6" cx="339.1" cy="491.6" r="2.85"/><circle class="p4" cx="357.4" cy="493.2" r="2.85"/><circle class="p3" cx="362.6" cy="447.8" r="2.85"/><circle class="p4" cx="440.2" cy="493.9" r="2.85"/><circle class="p2" cx="422.7" cy="453.6" r="2.85"/><circle class="p2" cx="318.1" cy="491.4" r="2.85"/><circle class="p3" cx="410.4" cy="442.9" r="2.85"/><circle class="p4" cx="342.8" cy="467" r="2.85"/><circle class="p4" cx="410.7" cy="335.3" r="2.85"/><circle class="p4" cx="293.9" cy="509.7" r="2.85"/><circle class="p5" cx="320.3" cy="494.1" r="2.85"/><circle class="p3" cx="551.3" cy="275.6" r="2.85"/><circle class="p5" cx="530.9" cy="375.3" r="2.85"/><circle class="p4" cx="306" cy="502.3" r="2.85"/><circle class="p5" cx="364.6" cy="454.7" r="2.85"/><circle class="p3" cx="381.4" cy="442.5" r="2.85"/><circle class="p5" cx="296.9" cy="505.5" r="2.85"/><circle class="p3" cx="346.1" cy="368.8" r="2.85"/><circle class="p4" cx="398.8" cy="407.3" r="2.85"/><circle class="p5" cx="304.9" cy="496.8" r="2.85"/><circle class="p2" cx="483.2" cy="367.5" r="2.85"/><circle class="p6" cx="316.9" cy="357.5" r="2.85"/><circle class="p4" cx="534.1" cy="418.7" r="2.85"/><circle class="p4" cx="372.4" cy="499.5" r="2.85"/><circle class="p2" cx="349.1" cy="409" r="2.85"/><circle class="p1" cx="394.4" cy="464.3" r="2.85"/><circle class="p3" cx="310.2" cy="461.7" r="2.85"/><circle class="p5" cx="386.5" cy="436.1" r="2.85"/><circle class="p4" cx="278.3" cy="518.2" r="2.85"/><circle class="p4" cx="307.7" cy="500.8" r="2.85"/><circle class="p3" cx="323.2" cy="487.8" r="2.85"/><circle class="p1" cx="393.7" cy="492.5" r="2.85"/><circle class="p6" cx="381.1" cy="503.6" r="2.85"/><circle class="p3" cx="327.4" cy="486.3" r="2.85"/><circle class="p5" cx="341.4" cy="478.1" r="2.85"/><circle class="p2" cx="367.1" cy="446.1" r="2.85"/><circle class="p3" cx="311.6" cy="486.2" r="2.85"/><circle class="p4" cx="363.2" cy="415.7" r="2.85"/><circle class="p6" cx="352.3" cy="421.3" r="2.85"/><circle class="p4" cx="297.5" cy="495.8" r="2.85"/><circle class="p3" cx="277" cy="521.1" r="2.85"/><circle class="p0" cx="446.2" cy="388.4" r="2.85"/><circle class="p4" cx="292.1" cy="511.8" r="2.85"/><circle class="p6" cx="363.2" cy="413.7" r="2.85"/><circle class="p4" cx="314.7" cy="486.5" r="2.85"/><circle class="p3" cx="303.4" cy="501" r="2.85"/><circle class="p4" cx="404.1" cy="403" r="2.85"/><circle class="p5" cx="293.9" cy="510.4" r="2.85"/><circle class="p4" cx="505.5" cy="402.3" r="2.85"/><circle class="p4" cx="324.4" cy="481.3" r="2.85"/><circle class="p4" cx="325.2" cy="483.3" r="2.85"/><circle class="p4" cx="316.6" cy="489.7" r="2.85"/><circle class="p5" cx="308.2" cy="493.2" r="2.85"/><circle class="p4" cx="319.2" cy="491.6" r="2.85"/><circle class="p0" cx="397.9" cy="515.4" r="2.85"/><circle class="p5" cx="308.8" cy="490.1" r="2.85"/><circle class="p1" cx="469.1" cy="469.5" r="2.85"/><circle class="p0" cx="435.5" cy="242.9" r="2.85"/><circle class="p0" cx="332.9" cy="482.2" r="2.85"/><circle class="p2" cx="425.9" cy="341.2" r="2.85"/><circle class="p5" cx="390" cy="306.6" r="2.85"/><circle class="p5" cx="298.1" cy="504.7" r="2.85"/><circle class="p1" cx="434.2" cy="384.8" r="2.85"/><circle class="p6" cx="295.1" cy="507.8" r="2.85"/><circle class="p0" cx="409.9" cy="281.8" r="2.85"/><circle class="p5" cx="472.6" cy="371.4" r="2.85"/><circle class="p4" cx="293.8" cy="502.7" r="2.85"/><circle class="p4" cx="387.4" cy="509.4" r="2.85"/><circle class="p3" cx="365.6" cy="459.1" r="2.85"/><circle class="p0" cx="345.8" cy="486.4" r="2.85"/><circle class="p1" cx="426.4" cy="288" r="2.85"/><circle class="p1" cx="334.5" cy="464.8" r="2.85"/><circle class="p1" cx="341.9" cy="477.6" r="2.85"/><circle class="p4" cx="359.5" cy="513.8" r="2.85"/><circle class="p3" cx="373.1" cy="488.8" r="2.85"/><circle class="p4" cx="348.6" cy="458.6" r="2.85"/><circle class="p6" cx="339.1" cy="450.4" r="2.85"/><circle class="p5" cx="347.8" cy="451.5" r="2.85"/><circle class="p5" cx="280.7" cy="513.6" r="2.85"/><circle class="p5" cx="339.5" cy="467.3" r="2.85"/><circle class="p3" cx="342.2" cy="472.8" r="2.85"/><circle class="p5" cx="310" cy="487.4" r="2.85"/><circle class="p4" cx="631.1" cy="188.7" r="2.85"/><circle class="p5" cx="466.8" cy="362.6" r="2.85"/><circle class="p0" cx="592.3" cy="202.4" r="2.85"/><circle class="p0" cx="433.2" cy="378" r="2.85"/><circle class="p5" cx="475.6" cy="483.4" r="2.85"/><circle class="p3" cx="461.2" cy="375.2" r="2.85"/><circle class="p3" cx="290.2" cy="510.5" r="2.85"/><circle class="p4" cx="399" cy="430.3" r="2.85"/><circle class="p3" cx="310.4" cy="488.6" r="2.85"/><circle class="p0" cx="545.1" cy="323.6" r="2.85"/><circle class="p3" cx="332.7" cy="470.9" r="2.85"/><circle class="p3" cx="327.4" cy="458.8" r="2.85"/><circle class="p5" cx="299.5" cy="501.7" r="2.85"/><circle class="p3" cx="388.1" cy="446.9" r="2.85"/><circle class="p3" cx="432.5" cy="346.5" r="2.85"/><circle class="p1" cx="564.1" cy="439" r="2.85"/><circle class="p4" cx="391.5" cy="486.9" r="2.85"/><circle class="p6" cx="322.2" cy="476.1" r="2.85"/><circle class="p4" cx="390.1" cy="464.3" r="2.85"/><circle class="p3" cx="412.3" cy="402.5" r="2.85"/><circle class="p0" cx="442.6" cy="442.3" r="2.85"/><circle class="p6" cx="285" cy="511.2" r="2.85"/><circle class="p1" cx="471.3" cy="301.4" r="2.85"/><circle class="p5" cx="377" cy="357.8" r="2.85"/><circle class="p5" cx="317.6" cy="478.3" r="2.85"/><circle class="p5" cx="461.1" cy="423.6" r="2.85"/><circle class="p1" cx="552.1" cy="412.9" r="2.85"/><circle class="p1" cx="391.5" cy="345.1" r="2.85"/><circle class="p5" cx="408.9" cy="311.8" r="2.85"/><circle class="p0" cx="355.9" cy="348.8" r="2.85"/><circle class="p5" cx="459.8" cy="410.7" r="2.85"/><circle class="p1" cx="276.6" cy="520.5" r="2.85"/><circle class="p2" cx="354.9" cy="399.9" r="2.85"/><circle class="p6" cx="503.8" cy="395.2" r="2.85"/><circle class="p0" cx="427.7" cy="318.7" r="2.85"/><circle class="p5" cx="369.5" cy="445.1" r="2.85"/><circle class="p5" cx="345.9" cy="482.4" r="2.85"/><circle class="p4" cx="361.5" cy="419" r="2.85"/><circle class="p5" cx="349.6" cy="379.7" r="2.85"/><circle class="p3" cx="322" cy="485.5" r="2.85"/><circle class="p4" cx="282.6" cy="516.3" r="2.85"/><circle class="p6" cx="299.2" cy="499.9" r="2.85"/><circle class="p4" cx="375.5" cy="370.5" r="2.85"/><circle class="p5" cx="746.1" cy="410" r="2.85"/><circle class="p3" cx="441.4" cy="375.5" r="2.85"/><circle class="p3" cx="305.5" cy="495.2" r="2.85"/><circle class="p5" cx="293.8" cy="507.9" r="2.85"/><circle class="p3" cx="331.4" cy="482.4" r="2.85"/><circle class="p3" cx="340.2" cy="374" r="2.85"/><circle class="p5" cx="287.1" cy="513.2" r="2.85"/><circle class="p3" cx="353.4" cy="483.7" r="2.85"/><circle class="p3" cx="464.1" cy="422.3" r="2.85"/><circle class="p2" cx="345.3" cy="473.2" r="2.85"/><circle class="p5" cx="334.2" cy="442.8" r="2.85"/><circle class="p1" cx="298.3" cy="503" r="2.85"/><circle class="p4" cx="481.9" cy="396.5" r="2.85"/><circle class="p4" cx="350.7" cy="372.1" r="2.85"/><circle class="p4" cx="305.1" cy="501.4" r="2.85"/><circle class="p5" cx="288" cy="510.8" r="2.85"/><circle class="p2" cx="407" cy="491.1" r="2.85"/><circle class="p4" cx="498.3" cy="318.9" r="2.85"/><circle class="p3" cx="407.9" cy="457.5" r="2.85"/><circle class="p0" cx="390.4" cy="420.6" r="2.85"/><circle class="p4" cx="293.6" cy="507.3" r="2.85"/><circle class="p0" cx="448.7" cy="249.5" r="2.85"/><circle class="p3" cx="332.7" cy="471.6" r="2.85"/><circle class="p5" cx="586.9" cy="358.3" r="2.85"/><circle class="p2" cx="393.5" cy="391.4" r="2.85"/><circle class="p2" cx="467.8" cy="467.7" r="2.85"/><circle class="p5" cx="407.6" cy="459.2" r="2.85"/><circle class="p5" cx="306.9" cy="497.7" r="2.85"/><circle class="p2" cx="438.6" cy="363.2" r="2.85"/><circle class="p4" cx="419.9" cy="431.9" r="2.85"/><circle class="p0" cx="464" cy="291.3" r="2.85"/><circle class="p3" cx="333.2" cy="468.7" r="2.85"/><circle class="p5" cx="420.6" cy="363" r="2.85"/><circle class="p4" cx="457.9" cy="411.1" r="2.85"/><circle class="p2" cx="523.6" cy="441.6" r="2.85"/><circle class="p0" cx="366.8" cy="275.6" r="2.85"/><circle class="p3" cx="375.4" cy="438.9" r="2.85"/><circle class="p3" cx="349.7" cy="466.9" r="2.85"/><circle class="p2" cx="365" cy="386.9" r="2.85"/><circle class="p5" cx="351.4" cy="495.5" r="2.85"/><circle class="p3" cx="536.8" cy="388.6" r="2.85"/><circle class="p5" cx="277" cy="514.4" r="2.85"/><circle class="p0" cx="486.6" cy="386" r="2.85"/><circle class="p5" cx="301.7" cy="504.6" r="2.85"/><circle class="p6" cx="345.9" cy="472" r="2.85"/><circle class="p6" cx="393.9" cy="508.3" r="2.85"/><circle class="p6" cx="354.6" cy="458.4" r="2.85"/><circle class="p0" cx="390.6" cy="353.2" r="2.85"/><circle class="p3" cx="588.1" cy="388.5" r="2.85"/><circle class="p2" cx="322.7" cy="500.1" r="2.85"/><circle class="p2" cx="405.3" cy="306.6" r="2.85"/><circle class="p5" cx="339.9" cy="462.7" r="2.85"/><circle class="p4" cx="294.4" cy="511.4" r="2.85"/><circle class="p5" cx="349.6" cy="473.2" r="2.85"/><circle class="p3" cx="338.4" cy="385.2" r="2.85"/><circle class="p4" cx="284.8" cy="510" r="2.85"/><circle class="p1" cx="474" cy="411.5" r="2.85"/><circle class="p5" cx="381.3" cy="373.6" r="2.85"/><circle class="p1" cx="412.6" cy="396.8" r="2.85"/><circle class="p0" cx="544.8" cy="459.1" r="2.85"/><circle class="p5" cx="293.1" cy="505.4" r="2.85"/><circle class="p3" cx="298.4" cy="503.4" r="2.85"/><circle class="p6" cx="513.9" cy="397.8" r="2.85"/><circle class="p4" cx="412.9" cy="380.5" r="2.85"/><circle class="p5" cx="438.7" cy="321.2" r="2.85"/><circle class="p6" cx="297.9" cy="507" r="2.85"/><circle class="p3" cx="530.3" cy="400.3" r="2.85"/><circle class="p0" cx="531.5" cy="207.3" r="2.85"/><circle class="p3" cx="363.8" cy="403.5" r="2.85"/><circle class="p4" cx="401.4" cy="451.8" r="2.85"/><circle class="p4" cx="338.4" cy="418.8" r="2.85"/><circle class="p2" cx="668.4" cy="369.1" r="2.85"/><circle class="p0" cx="474.8" cy="290.9" r="2.85"/><circle class="p4" cx="374.1" cy="509.4" r="2.85"/><circle class="p3" cx="381.1" cy="390.5" r="2.85"/><circle class="p4" cx="319.2" cy="493.1" r="2.85"/><circle class="p3" cx="317.9" cy="484.5" r="2.85"/><circle class="p4" cx="346.8" cy="460.5" r="2.85"/><circle class="p5" cx="346.4" cy="478.9" r="2.85"/><circle class="p3" cx="397.1" cy="426.1" r="2.85"/><circle class="p4" cx="339.8" cy="469.6" r="2.85"/><circle class="p3" cx="304.5" cy="515.6" r="2.85"/><circle class="p5" cx="293.6" cy="506.4" r="2.85"/><circle class="p2" cx="457.4" cy="374" r="2.85"/><circle class="p2" cx="286.6" cy="508.7" r="2.85"/><circle class="p2" cx="327.9" cy="463.6" r="2.85"/><circle class="p5" cx="450.3" cy="423.3" r="2.85"/><circle class="p0" cx="373.9" cy="515" r="2.85"/><circle class="p5" cx="352.9" cy="377.2" r="2.85"/><circle class="p0" cx="800.3" cy="364.5" r="2.85"/><circle class="p3" cx="371.6" cy="448.6" r="2.85"/><circle class="p1" cx="511.6" cy="338.6" r="2.85"/><circle class="p6" cx="396.2" cy="405.2" r="2.85"/><circle class="p4" cx="490.4" cy="384.7" r="2.85"/><circle class="p4" cx="308.9" cy="493.8" r="2.85"/><circle class="p2" cx="383.8" cy="426.2" r="2.85"/><circle class="p4" cx="381.2" cy="460.1" r="2.85"/><circle class="p3" cx="503.7" cy="271.5" r="2.85"/><circle class="p5" cx="281" cy="515.8" r="2.85"/><circle class="p2" cx="369.8" cy="425.2" r="2.85"/><circle class="p6" cx="357.9" cy="490.8" r="2.85"/><circle class="p3" cx="423.1" cy="344.7" r="2.85"/><circle class="p1" cx="337.9" cy="480.2" r="2.85"/><circle class="p1" cx="369.7" cy="383.3" r="2.85"/><circle class="p0" cx="470" cy="319.7" r="2.85"/><circle class="p3" cx="310.4" cy="494.1" r="2.85"/><circle class="p2" cx="502.2" cy="376.4" r="2.85"/><circle class="p2" cx="352.2" cy="483.5" r="2.85"/><circle class="p5" cx="351.4" cy="428.6" r="2.85"/><circle class="p5" cx="667.5" cy="341.8" r="2.85"/><circle class="p3" cx="489.7" cy="423.2" r="2.85"/><circle class="p4" cx="320.3" cy="496.6" r="2.85"/><circle class="p4" cx="324.9" cy="487.4" r="2.85"/><circle class="p5" cx="665.3" cy="446" r="2.85"/><circle class="p2" cx="340.6" cy="374.5" r="2.85"/><circle class="p3" cx="506.6" cy="350.8" r="2.85"/><circle class="p3" cx="385.7" cy="358.4" r="2.85"/><circle class="p6" cx="395.1" cy="500.3" r="2.85"/><circle class="p6" cx="362.1" cy="475.8" r="2.85"/><circle class="p4" cx="331.7" cy="472.8" r="2.85"/><circle class="p5" cx="291.4" cy="475.7" r="2.85"/><circle class="p5" cx="280.6" cy="517.9" r="2.85"/><circle class="p0" cx="371.9" cy="476.7" r="2.85"/><circle class="p5" cx="658.4" cy="383.2" r="2.85"/><circle class="p5" cx="532.3" cy="367.6" r="2.85"/><circle class="p2" cx="411.8" cy="427.6" r="2.85"/><circle class="p0" cx="396.9" cy="346.4" r="2.85"/><circle class="p4" cx="321" cy="476.7" r="2.85"/><circle class="p5" cx="315.7" cy="480.7" r="2.85"/><circle class="p0" cx="591" cy="336.8" r="2.85"/><circle class="p5" cx="404.7" cy="467.2" r="2.85"/><circle class="p0" cx="460.7" cy="329" r="2.85"/><circle class="p3" cx="311.2" cy="502.2" r="2.85"/><circle class="p0" cx="742.4" cy="314.1" r="2.85"/><circle class="p6" cx="351.9" cy="450.9" r="2.85"/><circle class="p4" cx="436" cy="440.3" r="2.85"/><circle class="p3" cx="290.9" cy="505.4" r="2.85"/><circle class="p5" cx="371.9" cy="467.2" r="2.85"/><circle class="p0" cx="451" cy="405.3" r="2.85"/><circle class="p2" cx="448.7" cy="303.7" r="2.85"/><circle class="p6" cx="278.2" cy="516.8" r="2.85"/><circle class="p2" cx="542.1" cy="438.6" r="2.85"/><circle class="p5" cx="410.4" cy="460.3" r="2.85"/><circle class="p4" cx="287.5" cy="509.1" r="2.85"/><circle class="p0" cx="455.5" cy="380.3" r="2.85"/><circle class="p6" cx="415.6" cy="376.3" r="2.85"/><circle class="p3" cx="480.5" cy="436.2" r="2.85"/><circle class="p0" cx="418.7" cy="402.7" r="2.85"/><circle class="p5" cx="321.4" cy="471.2" r="2.85"/><circle class="p4" cx="334.4" cy="459.5" r="2.85"/><circle class="p3" cx="371.7" cy="468.9" r="2.85"/><circle class="p1" cx="449.8" cy="407.6" r="2.85"/><circle class="p2" cx="374.9" cy="425.2" r="2.85"/><circle class="p6" cx="346" cy="475.5" r="2.85"/><circle class="p3" cx="299.5" cy="500.8" r="2.85"/><circle class="p0" cx="304.3" cy="500.7" r="2.85"/><circle class="p3" cx="329.9" cy="484.9" r="2.85"/><circle class="p2" cx="312.2" cy="486.9" r="2.85"/><circle class="p5" cx="352.7" cy="473.1" r="2.85"/><circle class="p5" cx="505.4" cy="256.2" r="2.85"/><circle class="p4" cx="302.1" cy="499.6" r="2.85"/><circle class="p1" cx="427.3" cy="422.8" r="2.85"/><circle class="p0" cx="439.8" cy="347.6" r="2.85"/><circle class="p5" cx="542.4" cy="381.5" r="2.85"/><circle class="p1" cx="325.1" cy="457.6" r="2.85"/><circle class="p5" cx="330.4" cy="484.1" r="2.85"/><circle class="p6" cx="304" cy="496.6" r="2.85"/><circle class="p5" cx="456.2" cy="454.2" r="2.85"/><circle class="p4" cx="285.5" cy="513.6" r="2.85"/><circle class="p3" cx="333.1" cy="480.6" r="2.85"/><circle class="p2" cx="351.8" cy="451.2" r="2.85"/><circle class="p6" cx="351" cy="459.4" r="2.85"/><circle class="p4" cx="288.9" cy="512.4" r="2.85"/><circle class="p5" cx="312.6" cy="489.4" r="2.85"/><circle class="p6" cx="315.3" cy="510.1" r="2.85"/><circle class="p1" cx="493.9" cy="375.5" r="2.85"/><circle class="p3" cx="291.9" cy="506.5" r="2.85"/><circle class="p5" cx="323.2" cy="471" r="2.85"/><circle class="p6" cx="469.2" cy="344.4" r="2.85"/><circle class="p5" cx="349.1" cy="465" r="2.85"/><circle class="p4" cx="327" cy="474.4" r="2.85"/><circle class="p1" cx="330.9" cy="452.6" r="2.85"/><circle class="p5" cx="324.3" cy="472.7" r="2.85"/><circle class="p6" cx="449.5" cy="463.4" r="2.85"/><circle class="p6" cx="324.5" cy="482.3" r="2.85"/><circle class="p4" cx="317.4" cy="482.7" r="2.85"/><circle class="p3" cx="376.2" cy="473.7" r="2.85"/><circle class="p5" cx="400.8" cy="452.2" r="2.85"/><circle class="p0" cx="340" cy="512.8" r="2.85"/><circle class="p6" cx="345.3" cy="448.2" r="2.85"/><circle class="p4" cx="586.9" cy="372.8" r="2.85"/><circle class="p5" cx="327.5" cy="481.4" r="2.85"/><circle class="p0" cx="434" cy="427.9" r="2.85"/><circle class="p4" cx="485.5" cy="395.3" r="2.85"/><circle class="p2" cx="392.8" cy="462.2" r="2.85"/><circle class="p5" cx="320.4" cy="479.2" r="2.85"/><circle class="p5" cx="341.6" cy="439.7" r="2.85"/><circle class="p6" cx="327.6" cy="459.2" r="2.85"/><circle class="p0" cx="570.8" cy="170.5" r="2.85"/><circle class="p1" cx="396.2" cy="510.8" r="2.85"/><circle class="p5" cx="313.6" cy="487.6" r="2.85"/><circle class="p2" cx="337.1" cy="490" r="2.85"/><circle class="p6" cx="338.7" cy="472.8" r="2.85"/><circle class="p4" cx="411.5" cy="432.5" r="2.85"/><circle class="p1" cx="367.7" cy="438" r="2.85"/><circle class="p4" cx="301.3" cy="495.3" r="2.85"/><circle class="p1" cx="349.1" cy="475.5" r="2.85"/><circle class="p3" cx="352.2" cy="436.7" r="2.85"/><circle class="p3" cx="318.9" cy="505.2" r="2.85"/><circle class="p4" cx="331.8" cy="471.5" r="2.85"/><circle class="p2" cx="349.3" cy="438.3" r="2.85"/><circle class="p5" cx="379.7" cy="310.9" r="2.85"/><circle class="p0" cx="307.7" cy="504.7" r="2.85"/><circle class="p5" cx="419.9" cy="436.5" r="2.85"/><circle class="p0" cx="394.3" cy="344" r="2.85"/><circle class="p3" cx="434.6" cy="439.1" r="2.85"/><circle class="p4" cx="346.4" cy="436.3" r="2.85"/><circle class="p2" cx="480.6" cy="339.9" r="2.85"/><circle class="p5" cx="283.9" cy="513.2" r="2.85"/><circle class="p3" cx="550.2" cy="396" r="2.85"/><circle class="p3" cx="356.2" cy="473.2" r="2.85"/><circle class="p2" cx="317.6" cy="491.4" r="2.85"/><circle class="p6" cx="476.5" cy="379.9" r="2.85"/><circle class="p1" cx="506.5" cy="418.9" r="2.85"/><circle class="p5" cx="496.8" cy="378" r="2.85"/><circle class="p5" cx="587.7" cy="405.1" r="2.85"/><circle class="p2" cx="295.3" cy="503.8" r="2.85"/><circle class="p5" cx="322" cy="489.1" r="2.85"/><circle class="p3" cx="497.6" cy="430.6" r="2.85"/><circle class="p5" cx="322.5" cy="490.7" r="2.85"/><circle class="p2" cx="365.6" cy="480.6" r="2.85"/><circle class="p4" cx="410.2" cy="439" r="2.85"/><circle class="p5" cx="446.1" cy="376.6" r="2.85"/><circle class="p2" cx="342.4" cy="465.9" r="2.85"/><circle class="p6" cx="322.1" cy="485.9" r="2.85"/><circle class="p0" cx="332.5" cy="455.1" r="2.85"/><circle class="p3" cx="334.1" cy="489.3" r="2.85"/><circle class="p4" cx="399.1" cy="487.7" r="2.85"/><circle class="p2" cx="284.2" cy="512.7" r="2.85"/><circle class="p5" cx="512.4" cy="271.9" r="2.85"/><circle class="p3" cx="358.8" cy="456.1" r="2.85"/><circle class="p5" cx="406.6" cy="424.1" r="2.85"/><circle class="p3" cx="307.7" cy="494.6" r="2.85"/><circle class="p1" cx="535.6" cy="380" r="2.85"/><circle class="p3" cx="305.7" cy="495.2" r="2.85"/><circle class="p3" cx="304.9" cy="494.6" r="2.85"/><circle class="p4" cx="404.7" cy="355.5" r="2.85"/><circle class="p5" cx="401.2" cy="300.4" r="2.85"/><circle class="p4" cx="343.8" cy="452.7" r="2.85"/><circle class="p5" cx="346.1" cy="415" r="2.85"/><circle class="p5" cx="294.9" cy="506" r="2.85"/><circle class="p5" cx="470.9" cy="421.6" r="2.85"/><circle class="p0" cx="636.5" cy="173.4" r="2.85"/><circle class="p6" cx="497.1" cy="286.8" r="2.85"/><circle class="p5" cx="303.6" cy="500.4" r="2.85"/><circle class="p6" cx="458.2" cy="301.4" r="2.85"/><circle class="p5" cx="344.1" cy="461.3" r="2.85"/><circle class="p6" cx="497.8" cy="412.2" r="2.85"/><circle class="p3" cx="281.8" cy="515.9" r="2.85"/><circle class="p5" cx="434.9" cy="401.9" r="2.85"/><circle class="p0" cx="432.2" cy="252.8" r="2.85"/><circle class="p2" cx="682.9" cy="355.4" r="2.85"/><circle class="p5" cx="585.6" cy="368.7" r="2.85"/><circle class="p1" cx="329.6" cy="486.3" r="2.85"/><circle class="p3" cx="284.7" cy="511.1" r="2.85"/><circle class="p4" cx="486.1" cy="372" r="2.85"/><circle class="p5" cx="341.1" cy="488.8" r="2.85"/><circle class="p0" cx="516.8" cy="390.1" r="2.85"/><circle class="p4" cx="600.1" cy="380.3" r="2.85"/><circle class="p5" cx="407.2" cy="459" r="2.85"/><circle class="p0" cx="452.9" cy="430.8" r="2.85"/><circle class="p4" cx="434.3" cy="396.3" r="2.85"/><circle class="p4" cx="466.5" cy="296.3" r="2.85"/><circle class="p1" cx="501.7" cy="248.7" r="2.85"/><circle class="p3" cx="327.6" cy="469.6" r="2.85"/><circle class="p3" cx="329.1" cy="460.6" r="2.85"/><circle class="p4" cx="370" cy="321.7" r="2.85"/><circle class="p3" cx="301.1" cy="513.6" r="2.85"/><circle class="p2" cx="320.6" cy="482.9" r="2.85"/><circle class="p4" cx="291" cy="507.7" r="2.85"/><circle class="p1" cx="288.4" cy="513.7" r="2.85"/><circle class="p0" cx="372.5" cy="427.5" r="2.85"/><circle class="p4" cx="350.9" cy="468" r="2.85"/><circle class="p4" cx="302.7" cy="491.8" r="2.85"/><circle class="p6" cx="332.7" cy="479.3" r="2.85"/><circle class="p1" cx="446.8" cy="422.6" r="2.85"/><circle class="p4" cx="468.7" cy="369.3" r="2.85"/><circle class="p5" cx="383.2" cy="400.8" r="2.85"/><circle class="p0" cx="337" cy="267.3" r="2.85"/><circle class="p5" cx="318" cy="498" r="2.85"/><circle class="p4" cx="419" cy="398" r="2.85"/><circle class="p3" cx="480.4" cy="420.8" r="2.85"/><circle class="p5" cx="421.3" cy="426.4" r="2.85"/><circle class="p0" cx="712.2" cy="363.7" r="2.85"/><circle class="p0" cx="305.1" cy="503.4" r="2.85"/><circle class="p0" cx="317.9" cy="492.5" r="2.85"/><circle class="p3" cx="363" cy="490.1" r="2.85"/><circle class="p4" cx="296.8" cy="507.5" r="2.85"/><circle class="p1" cx="332.7" cy="365.5" r="2.85"/><circle class="p6" cx="531.2" cy="442.5" r="2.85"/><circle class="p5" cx="577.4" cy="331.4" r="2.85"/><circle class="p6" cx="330.2" cy="480.7" r="2.85"/><circle class="p5" cx="482" cy="420.6" r="2.85"/><circle class="p5" cx="515.2" cy="379.8" r="2.85"/><circle class="p6" cx="299.9" cy="503.8" r="2.85"/><circle class="p3" cx="328.4" cy="477.9" r="2.85"/><circle class="p5" cx="297" cy="500.5" r="2.85"/><circle class="p5" cx="340.8" cy="479.4" r="2.85"/><circle class="p0" cx="503.6" cy="342.3" r="2.85"/><circle class="p4" cx="385.5" cy="432.3" r="2.85"/><circle class="p2" cx="320" cy="461.5" r="2.85"/><circle class="p4" cx="355.2" cy="484" r="2.85"/><circle class="p4" cx="353.2" cy="469.6" r="2.85"/><circle class="p3" cx="350.5" cy="459.9" r="2.85"/><circle class="p5" cx="290.5" cy="507.4" r="2.85"/><circle class="p3" cx="461.7" cy="390.7" r="2.85"/><circle class="p3" cx="349" cy="465.7" r="2.85"/><circle class="p5" cx="297.6" cy="502.2" r="2.85"/><circle class="p4" cx="300.2" cy="502" r="2.85"/><circle class="p4" cx="338.7" cy="375.8" r="2.85"/><circle class="p5" cx="335.5" cy="448.3" r="2.85"/><circle class="p3" cx="543.2" cy="415.8" r="2.85"/><circle class="p0" cx="440.1" cy="341.9" r="2.85"/><circle class="p1" cx="639.8" cy="207.8" r="2.85"/><circle class="p2" cx="483.3" cy="431.6" r="2.85"/><circle class="p3" cx="303.2" cy="503.1" r="2.85"/><circle class="p3" cx="311.3" cy="490.2" r="2.85"/><circle class="p0" cx="569.5" cy="305.8" r="2.85"/><circle class="p0" cx="429" cy="380" r="2.85"/><circle class="p6" cx="403.4" cy="394.9" r="2.85"/><circle class="p6" cx="323.5" cy="481.8" r="2.85"/><circle class="p3" cx="396.4" cy="421.5" r="2.85"/><circle class="p3" cx="506.6" cy="344.7" r="2.85"/><circle class="p4" cx="321.9" cy="486.2" r="2.85"/><circle class="p3" cx="333.5" cy="477.3" r="2.85"/><circle class="p5" cx="311.8" cy="490.6" r="2.85"/><circle class="p0" cx="408.2" cy="398" r="2.85"/><circle class="p3" cx="301.7" cy="483.4" r="2.85"/><circle class="p1" cx="304.5" cy="453" r="2.85"/><circle class="p2" cx="292.5" cy="508.2" r="2.85"/><circle class="p5" cx="332.8" cy="462.9" r="2.85"/><circle class="p3" cx="356.4" cy="469.8" r="2.85"/><circle class="p0" cx="464.6" cy="422.7" r="2.85"/><circle class="p6" cx="348.1" cy="450.4" r="2.85"/><circle class="p0" cx="492.9" cy="416" r="2.85"/><circle class="p4" cx="287.8" cy="510.3" r="2.85"/><circle class="p3" cx="290.8" cy="505.7" r="2.85"/><circle class="p6" cx="404.6" cy="411" r="2.85"/><circle class="p3" cx="347.1" cy="447.5" r="2.85"/><circle class="p4" cx="284.5" cy="513.4" r="2.85"/><circle class="p4" cx="422.4" cy="310.6" r="2.85"/><circle class="p4" cx="522.7" cy="367.5" r="2.85"/><circle class="p4" cx="309.1" cy="488" r="2.85"/><circle class="p6" cx="342.4" cy="483" r="2.85"/><circle class="p1" cx="391.9" cy="310.6" r="2.85"/><circle class="p4" cx="298.9" cy="501.9" r="2.85"/><circle class="p4" cx="651" cy="363.7" r="2.85"/><circle class="p4" cx="297.1" cy="506.3" r="2.85"/><circle class="p0" cx="515.7" cy="212.3" r="2.85"/><circle class="p0" cx="407.8" cy="93.6" r="2.85"/><circle class="p3" cx="452.9" cy="419.7" r="2.85"/><circle class="p3" cx="383.1" cy="456.6" r="2.85"/><circle class="p2" cx="326.5" cy="474.1" r="2.85"/><circle class="p3" cx="281.5" cy="517.1" r="2.85"/><circle class="p1" cx="477.1" cy="347.8" r="2.85"/><circle class="p4" cx="315.1" cy="477.8" r="2.85"/><circle class="p3" cx="356.3" cy="506.6" r="2.85"/><circle class="p3" cx="492.1" cy="377.7" r="2.85"/><circle class="p4" cx="315.9" cy="483.8" r="2.85"/><circle class="p4" cx="309.9" cy="494.5" r="2.85"/><circle class="p5" cx="317.5" cy="497.4" r="2.85"/><circle class="p3" cx="314.1" cy="493.8" r="2.85"/><circle class="p4" cx="281" cy="517" r="2.85"/><circle class="p6" cx="445.3" cy="380.7" r="2.85"/><circle class="p4" cx="328.4" cy="469.9" r="2.85"/><circle class="p5" cx="342.8" cy="480.2" r="2.85"/><circle class="p2" cx="350.6" cy="408.5" r="2.85"/><circle class="p2" cx="363.3" cy="505.7" r="2.85"/><circle class="p6" cx="362.4" cy="486.3" r="2.85"/><circle class="p4" cx="356.2" cy="515.5" r="2.85"/><circle class="p0" cx="327.5" cy="236.3" r="2.85"/>
</g>
<g clip-path="url(#cm)" fill="none">
<path d="M287.2 523.2C285.8 520.5 285.4 517.2 285 514.1C284.6 510.9 284.8 507.5 284.9 504.2C285 500.9 285.2 497.6 285.5 494.3C285.8 491 286.2 487.7 286.6 484.4C287 481.1 287.5 477.8 288.1 474.6C288.6 471.3 289.2 468.1 289.9 464.8C290.6 461.6 291.2 458.3 292.1 455.1C293 452 294.1 448.8 295.2 445.7C296.3 442.6 297.5 439.5 298.7 436.4C299.9 433.3 301.1 430.3 302.5 427.3C303.9 424.2 305.3 421.3 306.9 418.4C308.5 415.5 310.2 412.6 312 409.8C313.7 407 315.6 404.3 317.5 401.6C319.4 398.9 321.3 396.2 323.4 393.6C325.4 391 327.6 388.5 329.8 386C331.9 383.5 334.1 381 336.4 378.6C338.7 376.2 341 373.8 343.4 371.5C345.7 369.2 348.2 367 350.7 364.8C353.2 362.7 355.8 360.6 358.4 358.5C361 356.4 363.6 354.4 366.3 352.5C368.9 350.5 371.6 348.6 374.4 346.8C377.1 344.9 379.9 343.1 382.7 341.4C385.5 339.6 388.4 337.9 391.3 336.3C394.2 334.8 397.1 333.3 400.1 331.9C403.1 330.5 406.2 329.3 409.3 328.1C412.4 326.8 415.5 325.6 418.6 324.5C421.7 323.3 424.8 322.2 427.9 321.1C431 320 434.2 319 437.3 318C440.5 317 443.7 316.1 446.9 315.2C450.1 314.4 453.3 313.6 456.5 312.8C459.7 312.1 463 311.4 466.2 310.7C469.5 310 472.7 309.3 476 308.7C479.2 308.2 482.5 307.6 485.8 307.2C489.1 306.8 492.4 306.5 495.6 306.2C498.9 305.9 502.2 305.7 505.6 305.7C508.9 305.6 512.2 305.7 515.5 305.9C518.8 306 522.1 306.1 525.4 306.6C528.6 307 531.9 307.5 535.1 308.3C538.3 309.1 541.4 310.1 544.5 311.3C547.5 312.5 550.5 313.9 553.3 315.6C556.1 317.3 558.9 319.1 561.3 321.3C563.6 323.5 565.8 326 567.5 328.7C569.2 331.4 570.6 334.5 571.4 337.5C572.2 340.6 572.5 343.9 572.1 347.1C571.8 350.2 570.7 353.3 569.5 356.3C568.3 359.3 566.6 362.3 565 365.1C563.3 368 561.6 370.8 559.7 373.5C557.8 376.2 555.7 378.8 553.6 381.3C551.5 383.9 549.3 386.4 547.1 388.8C544.9 391.3 542.6 393.6 540.2 396C537.9 398.4 535.6 400.7 533.2 403C530.8 405.3 528.4 407.5 525.9 409.7C523.4 411.9 520.9 414.1 518.4 416.2C515.8 418.4 513.3 420.5 510.7 422.5C508.1 424.5 505.4 426.5 502.7 428.4C500 430.4 497.3 432.3 494.6 434.2C491.9 436.1 489.2 438 486.4 439.8C483.6 441.6 480.9 443.4 478 445.2C475.2 446.9 472.4 448.7 469.6 450.3C466.7 452 463.8 453.6 460.9 455.2C458 456.9 455.1 458.4 452.2 460.1C449.3 461.7 446.4 463.3 443.6 464.9C440.7 466.5 437.8 468.1 434.9 469.8C432 471.4 429.1 473 426.2 474.6C423.3 476.2 420.4 477.8 417.5 479.4C414.6 480.9 411.7 482.5 408.8 484.1C405.8 485.7 402.9 487.3 400 488.9C397.1 490.5 394.2 492 391.3 493.6C388.4 495.2 385.5 496.8 382.5 498.3C379.6 499.9 376.7 501.5 373.8 503C370.9 504.6 367.9 506.1 364.9 507.6C362 509.1 359 510.5 356 511.9C353.1 513.4 350.1 514.9 347.1 516.4C344.2 517.8 341.2 519.3 338.2 520.8C335.3 522.3 332.4 523.9 329.4 525.3C326.4 526.7 323.4 528.2 320.4 529.4C317.3 530.5 314.1 531.6 311 532.2C307.8 532.9 304.5 533.6 301.5 533.2C298.6 532.9 295.6 531.8 293.2 530.1C290.9 528.4 288.6 525.9 287.2 523.2Z" stroke="#1e1a18" stroke-width="1.55"/>
<path d="M290.4 523.4C289.2 521.1 288.6 518.2 288.2 515.4C287.8 512.7 287.8 509.7 287.8 506.9C287.8 504 288 501.2 288.2 498.3C288.5 495.4 288.8 492.6 289.3 489.8C289.7 486.9 290.2 484.1 290.8 481.3C291.4 478.5 292 475.7 292.9 473C293.7 470.2 294.8 467.6 295.9 464.9C297 462.3 298.2 459.7 299.4 457.1C300.5 454.5 301.6 451.8 302.8 449.2C304 446.6 305.2 443.9 306.4 441.4C307.7 438.8 309 436.2 310.4 433.8C311.9 431.3 313.4 428.8 314.9 426.4C316.5 424 318.1 421.6 319.8 419.3C321.6 417 323.3 414.8 325.2 412.6C327.1 410.4 329 408.4 331.1 406.4C333.1 404.3 335.3 402.4 337.4 400.5C339.6 398.6 341.7 396.7 343.9 394.9C346.1 393 348.3 391.2 350.5 389.3C352.7 387.5 355 385.7 357.3 384C359.5 382.2 361.9 380.5 364.2 378.9C366.6 377.3 369.1 375.8 371.5 374.3C374 372.9 376.5 371.4 379 370C381.5 368.6 384 367.2 386.5 365.9C389 364.5 391.5 363 394 361.6C396.6 360.3 399.1 359 401.7 357.9C404.3 356.7 407 355.6 409.7 354.6C412.4 353.5 415.1 352.6 417.8 351.6C420.5 350.7 423.2 349.8 426 349C428.7 348.1 431.5 347.3 434.2 346.6C437 345.9 439.8 345.2 442.6 344.5C445.4 343.8 448.2 343.2 451 342.6C453.8 341.9 456.6 341.3 459.4 340.8C462.2 340.2 465.1 339.7 467.9 339.3C470.8 338.9 473.6 338.6 476.5 338.4C479.3 338.1 482.2 337.9 485 337.9C487.9 337.8 490.8 338 493.6 338.2C496.5 338.4 499.3 338.7 502.2 339C505 339.4 507.9 339.7 510.7 340.4C513.4 341 516.2 341.9 518.9 342.8C521.5 343.8 524.3 344.8 526.8 346.1C529.3 347.4 531.7 348.9 533.8 350.7C535.9 352.5 537.9 354.7 539.3 357C540.6 359.3 541.7 362 542 364.7C542.4 367.3 542 370.2 541.4 372.9C540.7 375.5 539.5 378.2 538.3 380.8C537.1 383.3 535.6 385.8 534.1 388.2C532.6 390.7 530.9 393 529.2 395.3C527.4 397.6 525.6 399.8 523.8 402C521.9 404.2 520 406.4 518.1 408.4C516.1 410.5 514 412.5 511.9 414.5C509.8 416.4 507.6 418.3 505.5 420.1C503.3 422 501.1 423.8 498.8 425.7C496.6 427.5 494.4 429.3 492.1 431C489.9 432.8 487.6 434.6 485.3 436.2C482.9 437.9 480.5 439.5 478.1 441C475.7 442.6 473.2 444 470.7 445.4C468.2 446.9 465.7 448.3 463.2 449.7C460.7 451.1 458.2 452.5 455.7 454C453.2 455.4 450.7 456.8 448.3 458.3C445.8 459.7 443.3 461.2 440.8 462.6C438.3 464.1 435.9 465.5 433.4 467C430.9 468.4 428.4 469.9 425.9 471.3C423.5 472.8 421 474.2 418.5 475.7C416 477.1 413.6 478.6 411.1 480C408.6 481.5 406.1 482.9 403.6 484.3C401.1 485.7 398.5 487 396 488.3C393.4 489.6 390.8 490.9 388.3 492.2C385.7 493.5 383.1 494.8 380.6 496C378 497.3 375.4 498.6 372.9 499.9C370.3 501.2 367.7 502.5 365.1 503.8C362.6 505 360 506.3 357.4 507.6C354.9 508.9 352.3 510.2 349.7 511.5C347.1 512.7 344.6 514 342 515.2C339.4 516.5 336.8 517.7 334.2 519C331.6 520.3 329.1 521.5 326.5 522.8C323.9 524 321.4 525.4 318.7 526.6C316.1 527.7 313.5 529 310.8 529.8C308.2 530.6 305.3 531.5 302.7 531.5C300.1 531.4 297.6 530.8 295.5 529.4C293.4 528.1 291.6 525.7 290.4 523.4Z" stroke="#4d3020" stroke-width="1.6"/>
<path d="M290.9 523.4C289.7 521.2 289.2 518.5 288.7 515.9C288.3 513.3 288.3 510.5 288.3 507.8C288.3 505.1 288.4 502.4 288.6 499.7C288.8 497 289.1 494.3 289.5 491.6C289.9 488.9 290.3 486.2 290.9 483.6C291.4 480.9 292.1 478.3 292.9 475.7C293.7 473.1 294.5 470.5 295.6 468.1C296.6 465.6 297.9 463.1 299.1 460.7C300.3 458.3 301.7 455.9 303 453.6C304.3 451.2 305.6 448.8 306.9 446.4C308.2 444 309.5 441.6 310.8 439.3C312.2 436.9 313.5 434.6 315 432.3C316.5 430 318 427.7 319.6 425.6C321.3 423.4 323 421.3 324.8 419.3C326.6 417.3 328.6 415.4 330.6 413.6C332.6 411.7 334.6 410 336.7 408.2C338.8 406.5 341 404.9 343.1 403.2C345.3 401.6 347.6 400.1 349.8 398.5C352 396.9 354.2 395.3 356.4 393.7C358.6 392.1 360.7 390.4 362.9 388.9C365.1 387.3 367.4 385.8 369.7 384.3C372 382.9 374.3 381.5 376.7 380.1C379 378.7 381.4 377.4 383.8 376.1C386.2 374.8 388.5 373.5 390.9 372.2C393.3 370.9 395.7 369.6 398.1 368.5C400.6 367.3 403.1 366.4 405.7 365.4C408.2 364.5 410.8 363.6 413.4 362.8C416 362 418.6 361.4 421.3 360.8C423.9 360.2 426.6 359.6 429.2 359.1C431.9 358.6 434.6 358.2 437.3 357.8C440 357.3 442.7 357 445.4 356.6C448.1 356.3 450.8 356 453.5 355.8C456.2 355.5 458.9 355.2 461.6 355C464.3 354.8 467 354.6 469.7 354.5C472.4 354.4 475.1 354.4 477.9 354.4C480.6 354.5 483.3 354.5 486 354.6C488.7 354.7 491.4 354.8 494.1 355.1C496.8 355.4 499.5 355.9 502.1 356.5C504.8 357.1 507.4 357.7 510 358.6C512.5 359.4 515 360.5 517.4 361.7C519.8 362.9 522.2 364.3 524.2 366C526.2 367.7 528.3 369.6 529.7 371.7C531.1 373.8 532.3 376.3 532.8 378.8C533.3 381.3 533.1 384 532.5 386.5C532 389 530.8 391.5 529.6 393.9C528.3 396.3 526.7 398.5 525.1 400.7C523.5 402.8 521.8 404.9 519.9 406.9C518.1 408.9 516.2 410.8 514.2 412.7C512.3 414.6 510.2 416.4 508.2 418.2C506.2 420.1 504.2 421.9 502.1 423.6C500.1 425.4 498 427.1 495.8 428.8C493.7 430.5 491.6 432.2 489.4 433.8C487.2 435.4 485 436.9 482.7 438.4C480.4 439.9 478 441.2 475.6 442.5C473.3 443.8 470.9 445.1 468.5 446.4C466.1 447.7 463.7 449 461.3 450.3C458.9 451.6 456.5 452.9 454.2 454.2C451.8 455.5 449.4 456.9 447.1 458.2C444.7 459.6 442.4 460.9 440 462.3C437.7 463.7 435.3 465 433 466.4C430.6 467.8 428.2 469.1 425.9 470.5C423.5 471.9 421.2 473.2 418.8 474.6C416.5 475.9 414.1 477.3 411.8 478.7C409.4 480 407.1 481.4 404.7 482.7C402.3 484 399.9 485.3 397.5 486.6C395.1 487.8 392.7 489 390.2 490.3C387.8 491.5 385.4 492.7 383 493.9C380.5 495.2 378.1 496.4 375.7 497.6C373.3 498.9 370.8 500.1 368.4 501.3C366 502.5 363.6 503.8 361.1 505C358.7 506.2 356.3 507.4 353.9 508.7C351.5 510 349.1 511.2 346.7 512.6C344.3 513.9 342 515.2 339.6 516.5C337.2 517.9 334.9 519.2 332.5 520.5C330.1 521.8 327.7 523.1 325.3 524.3C322.8 525.6 320.4 526.8 317.9 527.9C315.4 528.9 312.9 529.9 310.3 530.5C307.8 531.1 305 531.8 302.6 531.6C300.2 531.4 297.8 530.6 295.8 529.2C293.9 527.8 292.1 525.6 290.9 523.4Z" stroke="#8a5636" stroke-width="1.4"/>
<path d="M291.2 523.4C290 521.2 289.5 518.5 289.1 516C288.6 513.4 288.6 510.7 288.5 508C288.5 505.4 288.6 502.7 288.8 500C289 497.3 289.3 494.7 289.7 492C290 489.4 290.4 486.7 291 484.1C291.6 481.5 292.2 478.9 293 476.4C293.8 473.8 294.7 471.3 295.7 468.8C296.7 466.4 298 464 299.2 461.6C300.4 459.2 301.7 456.9 302.9 454.5C304.2 452.1 305.5 449.8 306.8 447.5C308.1 445.1 309.4 442.8 310.7 440.4C312.1 438.1 313.4 435.8 314.8 433.5C316.3 431.3 317.8 429.1 319.4 426.9C321 424.8 322.7 422.7 324.5 420.7C326.2 418.7 328.1 416.8 330 415C332 413.1 334 411.3 336 409.6C338.1 407.9 340.2 406.3 342.3 404.7C344.5 403.1 346.7 401.6 348.9 400C351.1 398.5 353.2 396.9 355.4 395.3C357.6 393.7 359.7 392.1 361.9 390.6C364.1 389 366.3 387.5 368.5 386.1C370.8 384.6 373.1 383.2 375.4 381.8C377.7 380.4 380 379.1 382.3 377.8C384.7 376.5 387 375.2 389.3 373.9C391.7 372.6 394 371.3 396.4 370.2C398.9 369 401.3 367.9 403.8 367C406.3 366 408.8 365.1 411.4 364.3C413.9 363.5 416.5 362.8 419.1 362.2C421.7 361.5 424.3 361 427 360.5C429.6 359.9 432.2 359.5 434.9 359.1C437.5 358.6 440.2 358.3 442.8 358C445.5 357.6 448.2 357.3 450.8 357.1C453.5 356.8 456.2 356.6 458.8 356.4C461.5 356.2 464.2 356.1 466.8 356C469.5 355.9 472.2 355.8 474.9 355.8C477.6 355.8 480.2 355.8 482.9 355.9C485.6 356 488.3 356.2 490.9 356.5C493.5 356.9 496.2 357.3 498.8 357.9C501.4 358.5 504 359.2 506.5 360.1C509 360.9 511.5 361.9 513.9 363.1C516.2 364.3 518.5 365.7 520.5 367.4C522.5 369.1 524.4 371 525.8 373.1C527.1 375.2 528.3 377.7 528.8 380.1C529.3 382.5 529.1 385.1 528.6 387.6C528.2 390.1 527.1 392.6 525.9 394.9C524.7 397.3 523.2 399.5 521.6 401.6C520.1 403.8 518.3 405.8 516.5 407.8C514.8 409.8 512.9 411.7 511 413.6C509.1 415.5 507.1 417.3 505.1 419.1C503.1 420.9 501.1 422.6 499.1 424.4C497 426.1 494.9 427.8 492.8 429.5C490.7 431.1 488.6 432.8 486.5 434.3C484.3 435.9 482.1 437.5 479.9 439C477.7 440.4 475.4 441.8 473.1 443.2C470.8 444.6 468.4 445.8 466.1 447.1C463.7 448.5 461.4 449.8 459 451.1C456.7 452.4 454.4 453.7 452 455C449.7 456.3 447.4 457.7 445.1 459C442.7 460.3 440.4 461.7 438.1 463C435.8 464.4 433.5 465.7 431.2 467.1C428.8 468.4 426.5 469.8 424.2 471.1C421.9 472.5 419.6 473.8 417.3 475.1C414.9 476.5 412.6 477.8 410.3 479.2C408 480.5 405.6 481.8 403.3 483.1C400.9 484.4 398.6 485.6 396.2 486.9C393.8 488.1 391.4 489.3 389 490.5C386.7 491.8 384.3 493 381.9 494.2C379.5 495.4 377.1 496.6 374.7 497.8C372.3 499 369.9 500.2 367.5 501.5C365.2 502.7 362.8 503.9 360.4 505.1C358 506.3 355.6 507.6 353.3 508.8C350.9 510.1 348.5 511.4 346.2 512.7C343.9 514 341.6 515.4 339.2 516.7C336.9 518 334.6 519.4 332.2 520.6C329.9 521.9 327.5 523.2 325.1 524.4C322.7 525.6 320.3 526.8 317.9 527.8C315.4 528.8 312.9 529.9 310.4 530.5C307.8 531.1 305.2 531.7 302.8 531.4C300.4 531.2 298 530.3 296.1 529C294.1 527.6 292.3 525.5 291.2 523.4Z" stroke="#b87648" stroke-width="1.35"/>
<path d="M291.5 523.4C290.3 521.3 289.9 518.7 289.5 516.2C289 513.8 289 511.1 289 508.5C288.9 505.9 289 503.3 289.2 500.8C289.4 498.2 289.7 495.6 290 493C290.4 490.5 290.8 487.9 291.4 485.4C291.9 482.8 292.6 480.3 293.3 477.9C294.1 475.4 295 473 296 470.6C297 468.2 298.2 465.9 299.3 463.6C300.5 461.2 301.8 459 303 456.7C304.3 454.4 305.5 452.2 306.8 449.9C308.1 447.6 309.3 445.4 310.6 443.1C311.9 440.9 313.2 438.6 314.6 436.4C316 434.2 317.4 432 318.9 429.9C320.4 427.8 322 425.8 323.6 423.8C325.2 421.7 327 419.8 328.8 417.9C330.5 416.1 332.4 414.3 334.4 412.6C336.3 410.9 338.4 409.3 340.5 407.8C342.6 406.3 344.9 405 347 403.6C349.2 402.2 351.3 400.7 353.5 399.2C355.6 397.7 357.6 396.2 359.7 394.7C361.9 393.1 363.9 391.6 366.1 390.1C368.2 388.6 370.4 387.2 372.5 385.8C374.7 384.4 377 383.1 379.2 381.7C381.4 380.4 383.7 379.1 385.9 377.8C388.2 376.6 390.5 375.3 392.8 374.1C395.1 372.9 397.4 371.7 399.7 370.6C402.1 369.6 404.5 368.6 406.9 367.7C409.3 366.8 411.8 366 414.3 365.3C416.8 364.6 419.3 364 421.9 363.5C424.4 363 427 362.5 429.5 362.1C432.1 361.7 434.7 361.4 437.2 361.1C439.8 360.8 442.4 360.5 445 360.3C447.6 360.1 450.2 359.9 452.7 359.7C455.3 359.5 457.9 359.4 460.5 359.3C463.1 359.2 465.7 359.2 468.3 359.2C470.9 359.2 473.5 359.2 476.1 359.3C478.7 359.4 481.3 359.6 483.8 359.9C486.4 360.2 489 360.7 491.5 361.2C494 361.8 496.5 362.5 498.9 363.4C501.4 364.2 503.8 365.1 506.1 366.3C508.3 367.5 510.6 368.8 512.5 370.5C514.4 372.1 516.2 373.9 517.5 376C518.8 378 519.9 380.5 520.3 382.8C520.7 385.2 520.5 387.7 520 390.1C519.4 392.4 518.3 394.9 517.2 397.1C516 399.4 514.5 401.6 513 403.7C511.6 405.8 509.9 407.8 508.2 409.8C506.6 411.8 504.8 413.7 503 415.5C501.2 417.4 499.3 419.2 497.4 420.9C495.5 422.7 493.6 424.4 491.6 426.1C489.6 427.7 487.6 429.4 485.6 431C483.6 432.6 481.5 434.3 479.5 435.8C477.4 437.4 475.3 439 473.2 440.5C471.1 442 468.9 443.4 466.7 444.8C464.6 446.2 462.3 447.5 460.1 448.9C457.9 450.2 455.7 451.5 453.4 452.9C451.2 454.2 449 455.5 446.7 456.9C444.5 458.2 442.3 459.5 440 460.8C437.8 462.1 435.5 463.4 433.3 464.7C431.1 466.1 428.8 467.4 426.6 468.7C424.4 470 422.1 471.3 419.9 472.6C417.6 474 415.4 475.3 413.2 476.6C410.9 477.9 408.7 479.2 406.4 480.5C404.2 481.8 401.9 483 399.6 484.2C397.3 485.5 395 486.6 392.7 487.8C390.4 489 388.1 490.2 385.8 491.4C383.5 492.6 381.1 493.7 378.8 494.9C376.5 496.1 374.2 497.3 371.9 498.5C369.6 499.6 367.3 500.8 365 502C362.6 503.2 360.3 504.4 358 505.6C355.8 506.8 353.5 508 351.2 509.3C349 510.6 346.7 511.9 344.5 513.3C342.3 514.6 340.1 516 337.9 517.4C335.7 518.7 333.5 520.1 331.2 521.3C328.9 522.6 326.7 523.9 324.3 525C322 526.2 319.7 527.3 317.3 528.2C314.9 529.2 312.4 530.1 309.9 530.7C307.5 531.2 304.9 531.8 302.6 531.5C300.3 531.2 298 530.3 296.2 528.9C294.3 527.6 292.6 525.5 291.5 523.4Z" stroke="#d98e5c" stroke-width="1.35"/>
<path d="M291.5 523.4C290.4 521.3 289.9 518.8 289.5 516.3C289.1 513.9 289.1 511.2 289 508.7C289 506.1 289.2 503.5 289.3 501C289.5 498.4 289.8 495.8 290.1 493.3C290.5 490.7 290.9 488.2 291.4 485.7C292 483.2 292.6 480.7 293.4 478.2C294.1 475.8 294.9 473.3 295.9 471C296.9 468.6 298.1 466.3 299.3 464.1C300.5 461.8 301.8 459.6 303.1 457.4C304.3 455.1 305.6 452.9 306.9 450.6C308.1 448.4 309.4 446.1 310.6 443.9C311.9 441.6 313.2 439.4 314.5 437.2C315.8 435 317.2 432.8 318.7 430.7C320.2 428.6 321.6 426.5 323.2 424.5C324.8 422.5 326.5 420.5 328.3 418.7C330.1 416.9 331.9 415.1 333.9 413.4C335.9 411.8 337.9 410.2 340 408.8C342.1 407.3 344.4 406.1 346.6 404.8C348.8 403.4 351 402.1 353.1 400.6C355.2 399.1 357.2 397.5 359.2 395.9C361.3 394.4 363.3 392.7 365.3 391.2C367.4 389.7 369.6 388.3 371.7 386.9C373.9 385.5 376.1 384.2 378.3 382.9C380.5 381.6 382.8 380.4 385 379.1C387.3 377.8 389.4 376.5 391.7 375.2C393.9 373.9 396 372.5 398.4 371.4C400.7 370.4 403.1 369.5 405.5 368.6C407.9 367.7 410.4 366.9 412.8 366.3C415.3 365.6 417.8 365 420.3 364.5C422.8 364 425.4 363.5 427.9 363.1C430.5 362.7 433 362.3 435.6 362.1C438.1 361.8 440.7 361.5 443.3 361.3C445.8 361.1 448.4 360.9 451 360.7C453.5 360.6 456.1 360.5 458.7 360.4C461.2 360.3 463.8 360.3 466.4 360.3C469 360.3 471.6 360.3 474.1 360.4C476.7 360.5 479.3 360.5 481.8 360.8C484.3 361.1 486.9 361.6 489.4 362.2C491.8 362.8 494.4 363.4 496.8 364.3C499.2 365.1 501.6 366.1 503.8 367.2C506.1 368.4 508.4 369.6 510.3 371.2C512.3 372.8 514.2 374.6 515.5 376.6C516.8 378.6 517.9 381 518.2 383.3C518.6 385.6 518.3 388.2 517.7 390.6C517.1 393 515.9 395.3 514.7 397.5C513.5 399.8 512 401.9 510.5 404C509 406.1 507.4 408.1 505.8 410.1C504.1 412 502.4 414 500.7 415.9C498.9 417.7 497 419.5 495.2 421.3C493.3 423 491.3 424.7 489.4 426.4C487.4 428 485.4 429.7 483.5 431.3C481.5 432.9 479.4 434.6 477.4 436.1C475.4 437.7 473.4 439.3 471.3 440.8C469.2 442.3 467 443.7 464.9 445.2C462.7 446.6 460.5 447.9 458.4 449.3C456.2 450.6 454 452 451.8 453.3C449.6 454.7 447.4 456 445.2 457.3C443 458.7 440.8 460 438.5 461.3C436.3 462.6 434.1 463.9 431.9 465.2C429.7 466.5 427.4 467.8 425.2 469.1C423 470.4 420.8 471.8 418.6 473.1C416.4 474.4 414.1 475.7 411.9 477C409.7 478.3 407.5 479.6 405.3 480.9C403 482.1 400.7 483.4 398.5 484.6C396.2 485.8 393.9 486.9 391.6 488.1C389.3 489.3 387 490.5 384.7 491.6C382.4 492.8 380.1 494 377.8 495.1C375.5 496.3 373.3 497.5 371 498.6C368.7 499.8 366.4 501 364.1 502.2C361.8 503.3 359.5 504.5 357.2 505.7C354.9 506.9 352.6 508.1 350.4 509.4C348.2 510.6 346 512 343.9 513.4C341.7 514.8 339.6 516.3 337.4 517.7C335.3 519.1 333.1 520.5 330.9 521.8C328.7 523.1 326.4 524.3 324.1 525.4C321.8 526.6 319.5 527.7 317.1 528.6C314.7 529.6 312.2 530.4 309.8 530.9C307.4 531.4 304.8 531.9 302.5 531.6C300.3 531.2 298 530.3 296.2 528.9C294.4 527.6 292.6 525.5 291.5 523.4Z" stroke="#ea9c64" stroke-width="1.4"/>
<path d="M289.9 523.4C288.7 521 288.2 518.2 287.8 515.4C287.4 512.7 287.5 509.7 287.5 506.8C287.5 504 287.7 501.1 287.9 498.3C288.1 495.4 288.5 492.5 288.8 489.7C289.2 486.8 289.7 484 290.2 481.2C290.7 478.4 291.3 475.5 292 472.8C292.7 470 293.5 467.2 294.4 464.5C295.3 461.8 296.3 459.1 297.2 456.4C298.2 453.7 299.1 451 300.1 448.3C301.1 445.6 302.1 442.9 303.2 440.2C304.3 437.6 305.5 435 306.8 432.4C308.1 429.8 309.5 427.3 310.9 424.9C312.4 422.4 314 420 315.7 417.7C317.3 415.4 319.1 413.1 320.9 410.9C322.7 408.6 324.6 406.5 326.6 404.4C328.6 402.3 330.7 400.4 332.7 398.4C334.8 396.4 336.9 394.5 339.1 392.5C341.2 390.6 343.4 388.7 345.5 386.9C347.7 385 350 383.2 352.2 381.4C354.5 379.7 356.8 378 359.2 376.4C361.6 374.8 364 373.3 366.5 371.8C369 370.4 371.5 369 374.1 367.7C376.6 366.4 379.2 365.1 381.8 363.8C384.3 362.5 386.9 361.3 389.5 360C392.1 358.8 394.6 357.5 397.3 356.3C399.9 355.1 402.5 354 405.2 353C407.9 351.9 410.6 350.9 413.3 350C416 349.1 418.8 348.3 421.5 347.5C424.3 346.8 427.1 346.1 429.9 345.4C432.7 344.8 435.5 344.3 438.3 343.8C441.2 343.3 444 342.8 446.8 342.4C449.7 342 452.5 341.6 455.4 341.3C458.2 341 461.1 340.8 464 340.5C466.8 340.3 469.7 340.2 472.6 340C475.4 339.9 478.3 339.7 481.2 339.7C484 339.6 486.9 339.7 489.8 339.9C492.6 340.1 495.5 340.4 498.3 340.8C501.2 341.1 504 341.4 506.8 342C509.6 342.6 512.4 343.4 515 344.3C517.7 345.3 520.3 346.5 522.8 347.9C525.3 349.3 527.7 350.8 529.8 352.6C531.8 354.5 533.8 356.7 535.1 359C536.5 361.4 537.4 364.1 537.8 366.8C538.1 369.5 537.8 372.4 537.3 375.1C536.7 377.8 535.6 380.5 534.4 383C533.3 385.6 531.8 388.1 530.3 390.5C528.8 393 527.1 395.4 525.5 397.7C523.8 400 522 402.3 520.2 404.5C518.3 406.7 516.4 408.7 514.4 410.8C512.4 412.9 510.4 414.9 508.3 417C506.3 419 504.3 421 502.3 423.1C500.3 425.1 498.3 427.2 496.2 429.2C494.2 431.2 492.2 433.3 490.1 435.3C488 437.3 486 439.3 483.9 441.2C481.8 443.2 479.6 445 477.3 446.7C475 448.4 472.5 449.9 470.1 451.5C467.7 453.1 465.3 454.6 462.9 456.2C460.5 457.7 458.1 459.3 455.6 460.8C453.2 462.3 450.8 463.9 448.3 465.4C445.9 466.9 443.4 468.3 440.9 469.8C438.5 471.3 436 472.8 433.5 474.2C431.1 475.7 428.6 477.2 426.1 478.7C423.7 480.2 421.2 481.6 418.7 483.1C416.3 484.6 413.8 486.1 411.4 487.5C408.9 489 406.4 490.5 403.9 491.9C401.4 493.3 398.9 494.6 396.3 495.9C393.7 497.2 391.2 498.5 388.6 499.8C386 501.1 383.4 502.3 380.9 503.6C378.3 504.9 375.7 506.2 373.2 507.5C370.6 508.7 368 510 365.4 511.3C362.9 512.6 360.3 513.9 357.8 515.2C355.2 516.5 352.7 517.9 350.1 519.2C347.5 520.5 345 521.7 342.4 523C339.8 524.2 337.2 525.4 334.5 526.5C331.9 527.6 329.3 528.9 326.6 529.8C323.9 530.8 321.2 531.6 318.4 532.2C315.6 532.9 312.7 533.4 309.9 533.6C307.2 533.8 304.3 534.1 301.8 533.5C299.3 532.8 296.9 531.4 295 529.7C293 528 291.1 525.7 289.9 523.4Z" stroke="#e9b878" stroke-width="1.25"/>
<path d="M294.7 444.3C294.5 440.6 294.5 436.9 294.6 433.2C294.6 429.4 294.8 425.7 295 422C295.3 418.3 295.7 414.6 296.2 411C296.6 407.3 297.2 403.6 297.8 400C298.5 396.3 299.2 392.7 300 389C300.8 385.4 301.7 381.8 302.7 378.2C303.6 374.6 304.6 371.1 305.7 367.5C306.8 364 308 360.5 309.2 357C310.4 353.4 311.7 349.9 313 346.5C314.3 343 315.6 339.5 316.9 336C318.3 332.6 319.6 329.1 321 325.7C322.4 322.2 323.8 318.8 325.4 315.4C326.9 312 328.5 308.7 330.2 305.4C331.8 302 333.5 298.7 335.3 295.5C337.1 292.2 339 289 341 285.9C342.9 282.8 345 279.7 347.1 276.6C349.2 273.6 351.4 270.5 353.6 267.6C355.9 264.6 358.2 261.7 360.5 258.9C362.9 256 365.3 253.2 367.8 250.4C370.3 247.7 372.9 245.1 375.6 242.5C378.2 239.9 380.9 237.3 383.7 234.8C386.5 232.4 389.3 230 392.2 227.7C395.1 225.4 398.1 223.1 401.1 221C404.1 218.9 407.2 216.7 410.3 214.8C413.4 212.8 416.7 211 420 209.3C423.2 207.5 426.6 205.9 429.9 204.3C433.3 202.8 436.7 201.3 440.2 200C443.6 198.6 447.1 197.4 450.6 196.2C454.2 195.1 457.7 194 461.3 193.1C464.9 192.2 468.5 191.6 472.2 191.1C475.8 190.6 479.5 190.3 483.2 190.1C486.9 190 490.6 190.1 494.3 190.4C498 190.7 501.7 191.1 505.3 191.8C509 192.4 512.6 193.2 516.1 194.3C519.7 195.3 523.2 196.5 526.5 198C529.8 199.5 533.1 201.3 536.2 203.3C539.2 205.3 542.2 207.6 544.8 210.1C547.4 212.6 549.8 215.5 551.9 218.4C554 221.4 555.7 224.7 557.1 228C558.5 231.4 559.6 235 560.4 238.5C561.2 242.1 561.7 245.8 561.9 249.5C562.2 253.1 562.1 256.9 561.9 260.5C561.7 264.2 561.2 267.9 560.5 271.5C559.9 275.2 559 278.8 558.1 282.4C557.2 286 556.1 289.5 554.9 293C553.7 296.5 552.4 300 551 303.4C549.6 306.9 548 310.2 546.3 313.5C544.6 316.8 542.7 320 540.8 323.2C538.9 326.4 536.9 329.5 534.9 332.6C532.9 335.7 530.8 338.8 528.6 341.8C526.4 344.8 524.2 347.8 521.9 350.7C519.6 353.6 517.2 356.4 514.7 359.2C512.3 362 509.8 364.8 507.3 367.6C504.9 370.3 502.3 373 499.8 375.7C497.2 378.5 494.7 381.2 492.1 383.9C489.6 386.6 487.1 389.3 484.5 392C481.9 394.6 479.3 397.3 476.7 399.9C474 402.5 471.3 405.1 468.6 407.6C465.9 410.2 463.2 412.7 460.4 415.2C457.7 417.7 454.9 420.2 452.2 422.6C449.4 425.1 446.6 427.5 443.8 430C441 432.4 438.1 434.8 435.3 437.2C432.4 439.5 429.5 441.9 426.6 444.2C423.7 446.5 420.8 448.9 417.9 451.1C415 453.4 412 455.7 409 457.9C406.1 460.1 403.1 462.3 400.1 464.5C397.1 466.7 394 468.8 391 470.9C387.9 473 384.8 475.1 381.7 477.1C378.5 479.1 375.4 481 372.2 482.9C369 484.7 365.7 486.6 362.4 488.2C359.1 489.9 355.8 491.6 352.4 493C349 494.5 345.5 495.9 342 496.9C338.5 498 334.9 498.9 331.3 499.3C327.7 499.6 323.9 499.7 320.6 498.9C317.2 498.2 313.7 496.8 310.9 494.8C308.1 492.9 305.7 490 303.8 487.1C301.9 484.1 300.6 480.6 299.4 477.2C298.3 473.7 297.6 470 296.9 466.4C296.2 462.8 295.8 459.1 295.4 455.4C295 451.7 294.8 448 294.7 444.3Z" stroke="#111" stroke-width="1.55" stroke-dasharray="10.5 6"/>
</g>
<path d="M386.4 350.3L395.6 359.5M386.4 359.5L395.6 350.3" stroke="#111" stroke-width="1.3" fill="none"/>
<path d="M375.7 419.9L384.9 429.1M375.7 429.1L384.9 419.9" stroke="#111" stroke-width="1.3" fill="none"/>
<path d="M367.6 435.4L376.8 444.6M367.6 444.6L376.8 435.4" stroke="#6a4229" stroke-width="1.1" fill="none"/>
<path d="M364.4 434L373.6 443.2M364.4 443.2L373.6 434" stroke="#9f643f" stroke-width="1.1" fill="none"/>
<path d="M362 441.4L371.2 450.6M362 450.6L371.2 441.4" stroke="#d48555" stroke-width="1.1" fill="none"/>
<path d="M366 439.4L375.2 448.6M366 448.6L375.2 439.4" stroke="#f2a068" stroke-width="1.1" fill="none"/>
<path d="M363.8 437L373 446.2M363.8 446.2L373 437" stroke="#f0c27e" stroke-width="1.1" fill="none"/>
<text x="264.3" y="531.2" font-size="23" text-anchor="end">100</text>
<text x="264.3" y="447.1" font-size="23" text-anchor="end">120</text>
<text x="264.3" y="363.1" font-size="23" text-anchor="end">140</text>
<text x="264.3" y="279" font-size="23" text-anchor="end">160</text>
<text x="264.3" y="195" font-size="23" text-anchor="end">180</text>
<text x="264.3" y="110.9" font-size="23" text-anchor="end">200</text>
<text x="264.3" y="26.8" font-size="23" text-anchor="end">220</text>
<text x="275.3" y="555" font-size="23" text-anchor="middle">0</text>
<text x="350.1" y="555" font-size="23" text-anchor="middle">5</text>
<text x="425" y="555" font-size="23" text-anchor="middle">10</text>
<text x="499.8" y="555" font-size="23" text-anchor="middle">15</text>
<text x="574.6" y="555" font-size="23" text-anchor="middle">20</text>
<text x="649.4" y="555" font-size="23" text-anchor="middle">25</text>
<text x="724.2" y="555" font-size="23" text-anchor="middle">30</text>
<text x="799.1" y="555" font-size="23" text-anchor="middle">35</text>
<text x="873.9" y="555" font-size="23" text-anchor="middle">40</text>
<text x="948.7" y="555" font-size="23" text-anchor="middle">45</text>
<text x="612" y="590" font-size="26.1" text-anchor="middle">Bout duration [s]</text>
<text transform="translate(212.2 269.5) rotate(-90)" font-size="26.1" text-anchor="middle">Bout magnitude [% of CP]</text>
<text x="948.6" y="350" font-size="23" text-anchor="end">50% W'</text>
<text x="948.6" y="388" font-size="23" text-anchor="end">40% W'</text>
<text x="948.6" y="426" font-size="23" text-anchor="end">30% W'</text>
<text x="948.6" y="464.5" font-size="23" text-anchor="end">20% W'</text>
<text x="948.6" y="502.7" font-size="23" text-anchor="end">10% W'</text>
<rect x="641.6" y="83.6" width="42.7" height="29" fill="#060403"/>
<rect x="684" y="83.6" width="42.7" height="29" fill="#38251a"/>
<rect x="726.5" y="83.6" width="42.7" height="29" fill="#6c462e"/>
<rect x="768.9" y="83.6" width="42.7" height="29" fill="#a06744"/>
<rect x="811.3" y="83.6" width="42.7" height="29" fill="#d0875a"/>
<rect x="853.7" y="83.6" width="42.7" height="29" fill="#f0a36c"/>
<rect x="896.2" y="83.6" width="42.7" height="29" fill="#f2c686"/>
<rect x="641.6" y="83.6" width="297" height="29" fill="none" stroke="#262626" stroke-width="1.1"/>
<path d="M666.7 83.6v3M707.9 83.6v3M749.1 83.6v3M790.3 83.6v3M831.5 83.6v3M872.7 83.6v3M913.9 83.6v3" stroke="#222" stroke-width="0.8" fill="none" opacity="0.6"/>
<text x="666.1" y="69" font-size="20" text-anchor="middle">SL</text>
<text x="707.4" y="69" font-size="20" text-anchor="middle">R1</text>
<text x="748.6" y="69" font-size="20" text-anchor="middle">R2</text>
<text x="789.9" y="69" font-size="20" text-anchor="middle">R3</text>
<text x="831.1" y="69" font-size="20" text-anchor="middle">R4</text>
<text x="872.4" y="69" font-size="20" text-anchor="middle">LN-1</text>
<text x="913.6" y="69" font-size="20" text-anchor="middle">LN</text>
</svg></body></html>
